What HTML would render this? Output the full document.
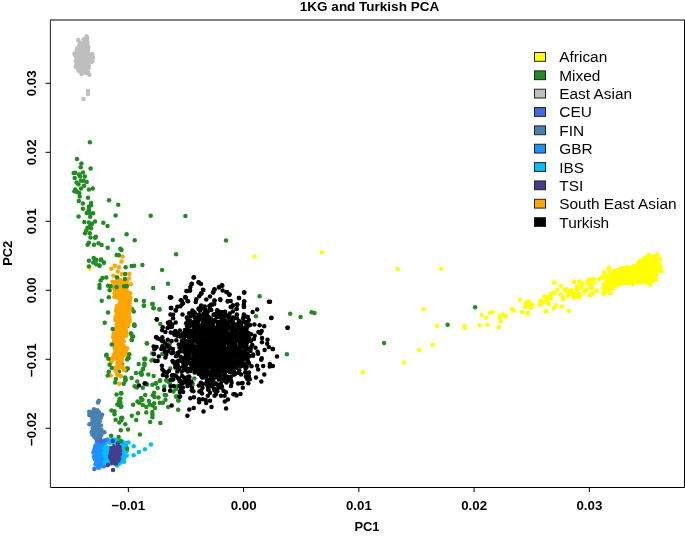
<!DOCTYPE html>
<html><head><meta charset="utf-8"><style>
html,body{margin:0;padding:0;background:#fff;}
svg{display:block;}
</style></head><body>
<svg width="685" height="536" viewBox="0 0 685 536">
<rect width="685" height="536" fill="#fff"/>
<g stroke="none">
<polygon points="614,271 622.5,268 633,267 640,262.5 647,257 656.5,256 658,260 659,270 654,278 649.5,282.5 638,282.5 632,283.8 623.5,283.8 615,285 611,289 607,287.5 607,279 611,274" fill="#FFFF00"/><g fill="#FFFF00"><circle cx="613.9" cy="271.1" r="2.25"/><circle cx="617.6" cy="269.9" r="2.25"/><circle cx="619.7" cy="269.2" r="2.25"/><circle cx="621.9" cy="268" r="2.25"/><circle cx="625.4" cy="268.3" r="2.25"/><circle cx="627" cy="267.1" r="2.25"/><circle cx="629.6" cy="267.8" r="2.25"/><circle cx="633.3" cy="266.2" r="2.25"/><circle cx="636.2" cy="266.3" r="2.25"/><circle cx="637.9" cy="264.2" r="2.25"/><circle cx="639.4" cy="261.6" r="2.25"/><circle cx="642.4" cy="259.9" r="2.25"/><circle cx="644.1" cy="258.4" r="2.25"/><circle cx="646.2" cy="256.9" r="2.25"/><circle cx="650.1" cy="257.3" r="2.25"/><circle cx="653.4" cy="256.6" r="2.25"/><circle cx="656.5" cy="256.3" r="2.25"/><circle cx="657.9" cy="259.6" r="2.25"/><circle cx="659.2" cy="264.2" r="2.25"/><circle cx="659.3" cy="267" r="2.25"/><circle cx="658.7" cy="269.5" r="2.25"/><circle cx="657" cy="271.9" r="2.25"/><circle cx="656.1" cy="275.2" r="2.25"/><circle cx="654.6" cy="277.8" r="2.25"/><circle cx="652.6" cy="280.9" r="2.25"/><circle cx="648.6" cy="282" r="2.25"/><circle cx="647.4" cy="282.4" r="2.25"/><circle cx="644.6" cy="282.3" r="2.25"/><circle cx="640.1" cy="282.7" r="2.25"/><circle cx="638.5" cy="282.1" r="2.25"/><circle cx="634.3" cy="282.8" r="2.25"/><circle cx="632.8" cy="284.3" r="2.25"/><circle cx="628.5" cy="283.3" r="2.25"/><circle cx="625.6" cy="283" r="2.25"/><circle cx="624" cy="283.2" r="2.25"/><circle cx="620.8" cy="284.1" r="2.25"/><circle cx="617.3" cy="285" r="2.25"/><circle cx="614.3" cy="285.3" r="2.25"/><circle cx="612.3" cy="286.9" r="2.25"/><circle cx="610.5" cy="288.6" r="2.25"/><circle cx="607.8" cy="288" r="2.25"/><circle cx="606.6" cy="285.4" r="2.25"/><circle cx="606.5" cy="281.6" r="2.25"/><circle cx="607.6" cy="279.3" r="2.25"/><circle cx="608.3" cy="277.4" r="2.25"/><circle cx="610.5" cy="273.6" r="2.25"/></g>
<g fill="#FFFF00"><circle cx="254.6" cy="256.5" r="2.25"/><circle cx="321.8" cy="252.3" r="2.25"/><circle cx="397.7" cy="269" r="2.25"/><circle cx="441.2" cy="268.7" r="2.25"/><circle cx="423.5" cy="309.2" r="2.25"/><circle cx="437.1" cy="325.8" r="2.25"/><circle cx="432.7" cy="344.8" r="2.25"/><circle cx="419.2" cy="349.9" r="2.25"/><circle cx="403.8" cy="362.4" r="2.25"/><circle cx="362.6" cy="372.3" r="2.25"/><circle cx="89.8" cy="268.8" r="2.25"/><circle cx="464.6" cy="325.9" r="2.25"/><circle cx="464.6" cy="327.9" r="2.25"/><circle cx="479.4" cy="325.3" r="2.25"/><circle cx="487.4" cy="324.8" r="2.25"/><circle cx="481.7" cy="314.9" r="2.25"/><circle cx="486.4" cy="317.7" r="2.25"/><circle cx="490.1" cy="312.8" r="2.25"/><circle cx="492.5" cy="312.1" r="2.25"/><circle cx="498.8" cy="327.2" r="2.25"/><circle cx="500.3" cy="315.6" r="2.25"/><circle cx="499.8" cy="317.7" r="2.25"/><circle cx="500.7" cy="321.3" r="2.25"/><circle cx="503.4" cy="314.6" r="2.25"/><circle cx="506" cy="316.2" r="2.25"/><circle cx="512.1" cy="309" r="2.25"/><circle cx="513.6" cy="310.5" r="2.25"/><circle cx="520.1" cy="299.8" r="2.25"/><circle cx="522.3" cy="312.1" r="2.25"/><circle cx="525.4" cy="305.9" r="2.25"/><circle cx="526.4" cy="303.4" r="2.25"/><circle cx="528.4" cy="301.9" r="2.25"/><circle cx="527.9" cy="313.1" r="2.25"/><circle cx="529.5" cy="307" r="2.25"/><circle cx="505.8" cy="316.1" r="2.25"/><circle cx="525.6" cy="303.5" r="2.25"/><circle cx="528.5" cy="301.7" r="2.25"/><circle cx="525.1" cy="306.5" r="2.25"/><circle cx="531.8" cy="304.8" r="2.25"/><circle cx="531" cy="307.3" r="2.25"/><circle cx="522.2" cy="311.9" r="2.25"/><circle cx="527.7" cy="313.2" r="2.25"/><circle cx="540.7" cy="301" r="2.25"/><circle cx="540.2" cy="304.8" r="2.25"/><circle cx="543.2" cy="302.3" r="2.25"/><circle cx="544.4" cy="296.4" r="2.25"/><circle cx="547.8" cy="297.2" r="2.25"/><circle cx="547" cy="300.2" r="2.25"/><circle cx="548.6" cy="303.5" r="2.25"/><circle cx="550.7" cy="293.9" r="2.25"/><circle cx="551.1" cy="297.7" r="2.25"/><circle cx="553.7" cy="293" r="2.25"/><circle cx="554.1" cy="282.7" r="2.25"/><circle cx="546.1" cy="311.2" r="2.25"/><circle cx="553.7" cy="308.1" r="2.25"/><circle cx="554.6" cy="282.6" r="2.25"/><circle cx="560.8" cy="285.8" r="2.25"/><circle cx="557.2" cy="289.9" r="2.25"/><circle cx="554.6" cy="293" r="2.25"/><circle cx="551" cy="294" r="2.25"/><circle cx="544.9" cy="296.8" r="2.25"/><circle cx="547.5" cy="298.1" r="2.25"/><circle cx="550.5" cy="298.1" r="2.25"/><circle cx="540.8" cy="300.6" r="2.25"/><circle cx="541.9" cy="302.7" r="2.25"/><circle cx="539.8" cy="304.7" r="2.25"/><circle cx="548.5" cy="303.5" r="2.25"/><circle cx="545.9" cy="311.4" r="2.25"/><circle cx="553.6" cy="308.3" r="2.25"/><circle cx="556.2" cy="305.2" r="2.25"/><circle cx="562" cy="306.6" r="2.25"/><circle cx="568.9" cy="310.9" r="2.25"/><circle cx="562.8" cy="299.6" r="2.25"/><circle cx="563.3" cy="297.6" r="2.25"/><circle cx="560.8" cy="294.5" r="2.25"/><circle cx="564.3" cy="289.4" r="2.25"/><circle cx="566.9" cy="289.4" r="2.25"/><circle cx="567.9" cy="292.5" r="2.25"/><circle cx="567.9" cy="296" r="2.25"/><circle cx="571.5" cy="290.4" r="2.25"/><circle cx="571" cy="294" r="2.25"/><circle cx="574" cy="297.1" r="2.25"/><circle cx="574.5" cy="294" r="2.25"/><circle cx="578.1" cy="297.1" r="2.25"/><circle cx="579.1" cy="294" r="2.25"/><circle cx="577.1" cy="286.3" r="2.25"/><circle cx="577.1" cy="289.9" r="2.25"/><circle cx="574" cy="281.7" r="2.25"/><circle cx="579.1" cy="281.7" r="2.25"/><circle cx="582.2" cy="283.8" r="2.25"/><circle cx="580.7" cy="287.4" r="2.25"/><circle cx="585.3" cy="290.4" r="2.25"/><circle cx="584.2" cy="292.5" r="2.25"/><circle cx="588.3" cy="280.2" r="2.25"/><circle cx="588.3" cy="282.3" r="2.25"/><circle cx="590.9" cy="285.3" r="2.25"/><circle cx="592.4" cy="279.2" r="2.25"/><circle cx="591.4" cy="287.9" r="2.25"/><circle cx="590.4" cy="295" r="2.25"/><circle cx="592.9" cy="293" r="2.25"/><circle cx="528.6" cy="301.2" r="2.25"/><circle cx="526" cy="303.7" r="2.25"/><circle cx="525.5" cy="306.8" r="2.25"/><circle cx="532.2" cy="304.7" r="2.25"/><circle cx="531.1" cy="307.3" r="2.25"/><circle cx="527.9" cy="313.1" r="2.25"/><circle cx="609" cy="267.6" r="2.25"/><circle cx="609" cy="270.1" r="2.25"/><circle cx="604" cy="272.6" r="2.25"/><circle cx="602.3" cy="276.8" r="2.25"/><circle cx="598.9" cy="279.3" r="2.25"/><circle cx="593.5" cy="279.3" r="2.25"/><circle cx="588.9" cy="279.7" r="2.25"/><circle cx="587.6" cy="282.7" r="2.25"/><circle cx="590.1" cy="285.2" r="2.25"/><circle cx="591.8" cy="287.7" r="2.25"/><circle cx="593.9" cy="282.7" r="2.25"/><circle cx="579.6" cy="281.8" r="2.25"/><circle cx="582.2" cy="283.5" r="2.25"/><circle cx="581.3" cy="286.9" r="2.25"/><circle cx="577.1" cy="287.3" r="2.25"/><circle cx="576.7" cy="289.8" r="2.25"/><circle cx="573.8" cy="281.7" r="2.25"/><circle cx="586.4" cy="289.4" r="2.25"/><circle cx="584.7" cy="291.9" r="2.25"/><circle cx="596.8" cy="290.7" r="2.25"/><circle cx="592.7" cy="292.8" r="2.25"/><circle cx="589.7" cy="295.3" r="2.25"/><circle cx="603.6" cy="284.4" r="2.25"/><circle cx="603.1" cy="288.6" r="2.25"/><circle cx="603.6" cy="293.6" r="2.25"/><circle cx="610.3" cy="292.8" r="2.25"/><circle cx="613.6" cy="287.7" r="2.25"/><circle cx="571.7" cy="291.1" r="2.25"/><circle cx="575" cy="294.4" r="2.25"/><circle cx="579.2" cy="295.3" r="2.25"/><circle cx="579.2" cy="297" r="2.25"/><circle cx="574.2" cy="297.8" r="2.25"/><circle cx="648.4" cy="254.9" r="2.25"/><circle cx="657.2" cy="254.1" r="2.25"/><circle cx="660.1" cy="259.6" r="2.25"/><circle cx="660.7" cy="267.2" r="2.25"/><circle cx="661.3" cy="271.3" r="2.25"/><circle cx="656" cy="279.5" r="2.25"/><circle cx="650.2" cy="284.7" r="2.25"/><circle cx="610.4" cy="292.9" r="2.25"/><circle cx="604" cy="294.1" r="2.25"/><circle cx="605" cy="292.5" r="2.25"/><circle cx="609" cy="290" r="2.25"/><circle cx="604" cy="285" r="2.25"/><circle cx="604" cy="289" r="2.25"/><circle cx="609.2" cy="268.6" r="2.25"/><circle cx="605.5" cy="275" r="2.25"/><circle cx="603.5" cy="278" r="2.25"/></g>
<polygon points="86.6,38.5 84,40 80.5,42.5 79.5,45.5 77.5,48.5 74.3,53 76,56.6 76.2,61.5 76.2,66 77.5,69.5 79.5,72 82.4,73.3 86.6,72.6 88.5,72 88,69 89.5,66 92,62.5 92.8,58 91.5,54.5 88.8,51 88,45.4 86.8,40.5" fill="#BEBEBE"/><g fill="#BEBEBE"><circle cx="87.1" cy="38.2" r="2.25"/><circle cx="83.6" cy="39.2" r="2.25"/><circle cx="79.8" cy="42.6" r="2.25"/><circle cx="79" cy="45.7" r="2.25"/><circle cx="77.3" cy="48.4" r="2.25"/><circle cx="76.7" cy="50.7" r="2.25"/><circle cx="74.4" cy="53.7" r="2.25"/><circle cx="75.4" cy="56" r="2.25"/><circle cx="76.8" cy="59.6" r="2.25"/><circle cx="75.7" cy="60.9" r="2.25"/><circle cx="76.6" cy="64.5" r="2.25"/><circle cx="75.7" cy="66.8" r="2.25"/><circle cx="78.2" cy="69.7" r="2.25"/><circle cx="79.4" cy="71.3" r="2.25"/><circle cx="81.6" cy="74.1" r="2.25"/><circle cx="86.1" cy="73" r="2.25"/><circle cx="88.1" cy="72.6" r="2.25"/><circle cx="88.2" cy="68.6" r="2.25"/><circle cx="88.9" cy="66.4" r="2.25"/><circle cx="91.2" cy="62" r="2.25"/><circle cx="92.5" cy="60.9" r="2.25"/><circle cx="93" cy="57.6" r="2.25"/><circle cx="92.3" cy="54" r="2.25"/><circle cx="87.9" cy="50.6" r="2.25"/><circle cx="88.3" cy="47.4" r="2.25"/><circle cx="87.4" cy="45.2" r="2.25"/><circle cx="87.5" cy="42.3" r="2.25"/><circle cx="86.6" cy="41.2" r="2.25"/></g>
<g fill="#BEBEBE"><circle cx="78.2" cy="40.1" r="2.25"/><circle cx="86.6" cy="36.3" r="2.25"/><circle cx="89.4" cy="74.7" r="2.25"/><circle cx="88" cy="90.9" r="2.25"/><circle cx="88" cy="94.1" r="2.25"/><circle cx="83.5" cy="99" r="2.25"/></g>
<polygon points="93,409 97,410 99.5,413 103,414 100.5,417 100.5,421 101,425 100.5,428.5 104,431.5 101,434.5 99.5,437 96.5,438.5 94,436.5 91,432 92.5,428.5 94.5,426 92,424 88.5,423.5 92,421 94,419 92,416.5 90,414.5 90,411.5" fill="#4682B4"/><g fill="#4682B4"><circle cx="93.9" cy="409.3" r="2.25"/><circle cx="97.3" cy="410.2" r="2.25"/><circle cx="98.9" cy="412.2" r="2.25"/><circle cx="102.1" cy="414.7" r="2.25"/><circle cx="100.9" cy="417.8" r="2.25"/><circle cx="99.6" cy="421.2" r="2.25"/><circle cx="101" cy="425.4" r="2.25"/><circle cx="100.2" cy="429.4" r="2.25"/><circle cx="101.5" cy="430.1" r="2.25"/><circle cx="104.4" cy="432.2" r="2.25"/><circle cx="101.4" cy="434.9" r="2.25"/><circle cx="100" cy="437.7" r="2.25"/><circle cx="96.2" cy="438.8" r="2.25"/><circle cx="94.7" cy="437.2" r="2.25"/><circle cx="92.4" cy="434.8" r="2.25"/><circle cx="91.7" cy="432.1" r="2.25"/><circle cx="92.7" cy="428.3" r="2.25"/><circle cx="94.6" cy="426.2" r="2.25"/><circle cx="91.2" cy="424.3" r="2.25"/><circle cx="89.4" cy="424.2" r="2.25"/><circle cx="92.4" cy="420.8" r="2.25"/><circle cx="94.4" cy="419.1" r="2.25"/><circle cx="91.9" cy="417.1" r="2.25"/><circle cx="89.3" cy="415" r="2.25"/><circle cx="89.2" cy="411.7" r="2.25"/></g>
<g fill="#4682B4"><circle cx="98.8" cy="400.7" r="2.25"/><circle cx="98" cy="402.6" r="2.25"/></g>
<polygon points="97,442 100,440.5 104,440 105.5,441.5 104.5,443.5 100,444 97,444.5" fill="#4169E1"/><g fill="#4169E1"><circle cx="97" cy="441.5" r="2.25"/><circle cx="100.4" cy="440.5" r="2.25"/><circle cx="104.2" cy="440.8" r="2.25"/><circle cx="105.1" cy="440.6" r="2.25"/><circle cx="104.1" cy="443.8" r="2.25"/><circle cx="101.7" cy="443.2" r="2.25"/><circle cx="100.7" cy="444.3" r="2.25"/><circle cx="96.9" cy="445.2" r="2.25"/></g>
<g fill="#4169E1"><circle cx="94.3" cy="469" r="2.25"/><circle cx="103.7" cy="466.3" r="2.25"/></g>
<polygon points="96,445 104,444.5 106,447 106,462 102,466 97,467.5 95.5,463 94.3,459 94.3,448" fill="#1E90FF"/><g fill="#1E90FF"><circle cx="95.7" cy="445.3" r="2.25"/><circle cx="98.1" cy="444.7" r="2.25"/><circle cx="101.9" cy="445.4" r="2.25"/><circle cx="104.7" cy="444.3" r="2.25"/><circle cx="106.1" cy="446.7" r="2.25"/><circle cx="105.3" cy="450" r="2.25"/><circle cx="106.6" cy="453.6" r="2.25"/><circle cx="106.4" cy="456.8" r="2.25"/><circle cx="105.6" cy="458.4" r="2.25"/><circle cx="105.9" cy="461.6" r="2.25"/><circle cx="103.5" cy="463.8" r="2.25"/><circle cx="102.2" cy="466" r="2.25"/><circle cx="99.2" cy="467.4" r="2.25"/><circle cx="97.9" cy="467.4" r="2.25"/><circle cx="95.5" cy="464.4" r="2.25"/><circle cx="96.2" cy="462.2" r="2.25"/><circle cx="94.7" cy="459.1" r="2.25"/><circle cx="94" cy="456.8" r="2.25"/><circle cx="93.4" cy="452.8" r="2.25"/><circle cx="94.2" cy="449.9" r="2.25"/><circle cx="94.9" cy="447.5" r="2.25"/></g>
<polygon points="104.5,449 108,441.5 112,440 120,441 126,443 126,455 124,461 118,463.5 110,463 105,462 104.4,455" fill="#00BFFF"/><g fill="#00BFFF"><circle cx="103.9" cy="448.2" r="2.25"/><circle cx="105.9" cy="446.4" r="2.25"/><circle cx="107.1" cy="444.3" r="2.25"/><circle cx="108.6" cy="442.3" r="2.25"/><circle cx="112.3" cy="439.5" r="2.25"/><circle cx="114.6" cy="439.8" r="2.25"/><circle cx="116.5" cy="440.6" r="2.25"/><circle cx="120.4" cy="440.4" r="2.25"/><circle cx="122.6" cy="441.7" r="2.25"/><circle cx="126.4" cy="443" r="2.25"/><circle cx="126.2" cy="446.5" r="2.25"/><circle cx="125.8" cy="449.5" r="2.25"/><circle cx="126.7" cy="451.3" r="2.25"/><circle cx="126.8" cy="455.4" r="2.25"/><circle cx="124.3" cy="457.9" r="2.25"/><circle cx="124.2" cy="461.7" r="2.25"/><circle cx="120.8" cy="462.4" r="2.25"/><circle cx="118.7" cy="464" r="2.25"/><circle cx="116.1" cy="463.3" r="2.25"/><circle cx="112.9" cy="462.6" r="2.25"/><circle cx="110.4" cy="463.6" r="2.25"/><circle cx="107.8" cy="462.9" r="2.25"/><circle cx="104.5" cy="462.7" r="2.25"/><circle cx="105.6" cy="459.4" r="2.25"/><circle cx="104.5" cy="455.5" r="2.25"/><circle cx="104.1" cy="452.7" r="2.25"/></g>
<g fill="#00BFFF"><circle cx="128.5" cy="442.5" r="2.25"/><circle cx="133.7" cy="446.3" r="2.25"/><circle cx="139" cy="452" r="2.25"/><circle cx="144.9" cy="449.3" r="2.25"/><circle cx="150.9" cy="444.5" r="2.25"/><circle cx="133.7" cy="455.2" r="2.25"/><circle cx="117.1" cy="465.6" r="2.25"/></g>
<polygon points="111,447.5 114,446.5 118,445.5 119.5,448 119.5,455 119,461 116,463 111,463 110.5,455" fill="#483D8B"/><g fill="#483D8B"><circle cx="111.6" cy="447.2" r="2.25"/><circle cx="113.2" cy="446.4" r="2.25"/><circle cx="118.1" cy="446" r="2.25"/><circle cx="119.5" cy="447.2" r="2.25"/><circle cx="120.1" cy="450.7" r="2.25"/><circle cx="120" cy="454.4" r="2.25"/><circle cx="119" cy="458.5" r="2.25"/><circle cx="118.4" cy="460.4" r="2.25"/><circle cx="116" cy="463.4" r="2.25"/><circle cx="114.1" cy="463.3" r="2.25"/><circle cx="111.8" cy="463" r="2.25"/><circle cx="111.6" cy="459.6" r="2.25"/><circle cx="110.2" cy="457.7" r="2.25"/><circle cx="110.1" cy="455.4" r="2.25"/><circle cx="110.9" cy="452.5" r="2.25"/><circle cx="111.5" cy="450.1" r="2.25"/></g>
<g fill="#483D8B"><circle cx="107.8" cy="464.9" r="2.25"/><circle cx="113" cy="470.1" r="2.25"/><circle cx="112.7" cy="441" r="2.25"/><circle cx="117.9" cy="443.5" r="2.25"/></g>
<path d="M107.2,444.2Q109.5,446.6 112.2,444.8" fill="none" stroke="#fff" stroke-width="1.1"/>
<g fill="#1E90FF"><circle cx="107.6" cy="439.4" r="2.25"/></g>
<g fill="#228B22"><circle cx="122.2" cy="364.7" r="2.25"/><circle cx="119" cy="371.6" r="2.25"/><circle cx="126.8" cy="368.6" r="2.25"/><circle cx="125.6" cy="292.8" r="2.25"/><circle cx="116.6" cy="310" r="2.25"/><circle cx="131.9" cy="308.9" r="2.25"/><circle cx="118.1" cy="336" r="2.25"/><circle cx="123" cy="341.3" r="2.25"/><circle cx="127.5" cy="326" r="2.25"/><circle cx="114.8" cy="348" r="2.25"/><circle cx="127.8" cy="368.4" r="2.25"/><circle cx="126.3" cy="370.3" r="2.25"/></g>
<polygon points="113,282 114.5,288 114.5,297 120,299.5 120,303 117,306 116,311 116,320 116.6,327 113.6,334 114,341 116.2,345 116,350 113,358 121,358 125.6,353.6 125,347.6 122,339.4 125.6,335.7 125.6,329.7 128,324.5 129.4,320 129.8,310 129.8,300 129.5,294 126.5,290 126.5,282 120,280" fill="#FFA500"/><g fill="#FFA500"><circle cx="112.7" cy="281.8" r="2.25"/><circle cx="114.4" cy="285.7" r="2.25"/><circle cx="114" cy="288.6" r="2.25"/><circle cx="115.3" cy="291" r="2.25"/><circle cx="114.6" cy="293.5" r="2.25"/><circle cx="114.6" cy="297" r="2.25"/><circle cx="117.4" cy="297.4" r="2.25"/><circle cx="120.8" cy="299.5" r="2.25"/><circle cx="119.8" cy="303.5" r="2.25"/><circle cx="117.1" cy="306" r="2.25"/><circle cx="116.8" cy="307.7" r="2.25"/><circle cx="116.1" cy="310.8" r="2.25"/><circle cx="116.8" cy="314.8" r="2.25"/><circle cx="115.6" cy="317" r="2.25"/><circle cx="115.3" cy="319.9" r="2.25"/><circle cx="116.9" cy="324.2" r="2.25"/><circle cx="116.6" cy="326.7" r="2.25"/><circle cx="115" cy="329.5" r="2.25"/><circle cx="115.4" cy="331" r="2.25"/><circle cx="114.1" cy="333.1" r="2.25"/><circle cx="113.2" cy="337" r="2.25"/><circle cx="114.3" cy="340.7" r="2.25"/><circle cx="114.8" cy="343.2" r="2.25"/><circle cx="115.5" cy="345.4" r="2.25"/><circle cx="115.4" cy="347.5" r="2.25"/><circle cx="115.6" cy="349.5" r="2.25"/><circle cx="115.1" cy="352.6" r="2.25"/><circle cx="113.8" cy="355.2" r="2.25"/><circle cx="113.1" cy="357.4" r="2.25"/><circle cx="115.1" cy="358.2" r="2.25"/><circle cx="118.6" cy="358.1" r="2.25"/><circle cx="121.6" cy="358.2" r="2.25"/><circle cx="123.9" cy="355.3" r="2.25"/><circle cx="126" cy="354.2" r="2.25"/><circle cx="126" cy="350.3" r="2.25"/><circle cx="124.7" cy="348.4" r="2.25"/><circle cx="123.5" cy="345.8" r="2.25"/><circle cx="123.7" cy="341.5" r="2.25"/><circle cx="121.5" cy="339.8" r="2.25"/><circle cx="123.4" cy="336.8" r="2.25"/><circle cx="126.2" cy="335.6" r="2.25"/><circle cx="126.1" cy="332" r="2.25"/><circle cx="125.4" cy="330" r="2.25"/><circle cx="125.9" cy="326.6" r="2.25"/><circle cx="128.3" cy="325.2" r="2.25"/><circle cx="129.5" cy="321.6" r="2.25"/><circle cx="129.4" cy="320.5" r="2.25"/><circle cx="129.5" cy="317" r="2.25"/><circle cx="129.1" cy="312.6" r="2.25"/><circle cx="129.1" cy="309.2" r="2.25"/><circle cx="129.9" cy="306.7" r="2.25"/><circle cx="129.9" cy="302.7" r="2.25"/><circle cx="129.2" cy="299.5" r="2.25"/><circle cx="130.3" cy="297.9" r="2.25"/><circle cx="130.3" cy="293.3" r="2.25"/><circle cx="127.2" cy="292.8" r="2.25"/><circle cx="126.4" cy="290.5" r="2.25"/><circle cx="126.2" cy="287.3" r="2.25"/><circle cx="126.5" cy="284.5" r="2.25"/><circle cx="126.7" cy="281.1" r="2.25"/><circle cx="123.6" cy="281.6" r="2.25"/><circle cx="119.4" cy="279.9" r="2.25"/><circle cx="116.9" cy="280.8" r="2.25"/></g>
<g fill="#FFA500"><circle cx="113" cy="282" r="2.25"/><circle cx="114.5" cy="288" r="2.25"/><circle cx="114.5" cy="297" r="2.25"/><circle cx="120" cy="299.5" r="2.25"/><circle cx="120" cy="303" r="2.25"/><circle cx="117" cy="306" r="2.25"/><circle cx="116" cy="311" r="2.25"/><circle cx="116" cy="320" r="2.25"/><circle cx="116.6" cy="327" r="2.25"/><circle cx="113.6" cy="334" r="2.25"/><circle cx="114" cy="341" r="2.25"/><circle cx="116.2" cy="345" r="2.25"/><circle cx="116" cy="350" r="2.25"/><circle cx="113" cy="358" r="2.25"/><circle cx="121" cy="358" r="2.25"/><circle cx="125.6" cy="353.6" r="2.25"/><circle cx="125" cy="347.6" r="2.25"/><circle cx="122" cy="339.4" r="2.25"/><circle cx="125.6" cy="335.7" r="2.25"/><circle cx="125.6" cy="329.7" r="2.25"/><circle cx="128" cy="324.5" r="2.25"/><circle cx="129.4" cy="320" r="2.25"/><circle cx="129.8" cy="310" r="2.25"/><circle cx="129.8" cy="300" r="2.25"/><circle cx="129.5" cy="294" r="2.25"/><circle cx="126.5" cy="290" r="2.25"/><circle cx="126.5" cy="282" r="2.25"/><circle cx="120" cy="280" r="2.25"/><circle cx="122.6" cy="256.6" r="2.25"/><circle cx="121.5" cy="261.6" r="2.25"/><circle cx="114.8" cy="265.7" r="2.25"/><circle cx="118.9" cy="267.2" r="2.25"/><circle cx="111.4" cy="268.7" r="2.25"/><circle cx="117.8" cy="271.6" r="2.25"/><circle cx="113.3" cy="275.7" r="2.25"/><circle cx="121.9" cy="274.3" r="2.25"/><circle cx="129.3" cy="273.9" r="2.25"/><circle cx="129" cy="278.4" r="2.25"/><circle cx="130.8" cy="284.3" r="2.25"/><circle cx="111.4" cy="359.5" r="2.25"/><circle cx="111" cy="362.1" r="2.25"/><circle cx="119.6" cy="360.2" r="2.25"/><circle cx="121.9" cy="361" r="2.25"/><circle cx="117.4" cy="364.7" r="2.25"/><circle cx="115.9" cy="368.4" r="2.25"/><circle cx="115.9" cy="371" r="2.25"/><circle cx="124.1" cy="369.9" r="2.25"/><circle cx="121.1" cy="367.3" r="2.25"/><circle cx="117.4" cy="374.4" r="2.25"/><circle cx="120.7" cy="376.3" r="2.25"/><circle cx="110.7" cy="375.5" r="2.25"/><circle cx="119.3" cy="383.7" r="2.25"/><circle cx="126" cy="334.9" r="2.25"/><circle cx="127.1" cy="348.5" r="2.25"/><circle cx="115" cy="358.5" r="2.25"/><circle cx="118.3" cy="359.8" r="2.25"/><circle cx="121.6" cy="358.5" r="2.25"/><circle cx="117.6" cy="363" r="2.25"/><circle cx="119.6" cy="363.7" r="2.25"/><circle cx="120.9" cy="361.8" r="2.25"/><circle cx="115.7" cy="367.6" r="2.25"/><circle cx="115.7" cy="370.3" r="2.25"/><circle cx="118.3" cy="367.6" r="2.25"/><circle cx="122.2" cy="366.3" r="2.25"/><circle cx="124.2" cy="369.6" r="2.25"/><circle cx="126.1" cy="353.6" r="2.25"/><circle cx="111.8" cy="359.2" r="2.25"/><circle cx="111.4" cy="361.4" r="2.25"/><circle cx="120.9" cy="376.1" r="2.25"/><circle cx="117.6" cy="374.8" r="2.25"/></g>
<g fill="#228B22"><circle cx="89.9" cy="142.2" r="2.25"/><circle cx="77" cy="158.9" r="2.25"/><circle cx="81.4" cy="163.6" r="2.25"/><circle cx="80.7" cy="167.3" r="2.25"/><circle cx="90.6" cy="168.4" r="2.25"/><circle cx="73.6" cy="172.9" r="2.25"/><circle cx="75.3" cy="172.7" r="2.25"/><circle cx="83" cy="172.4" r="2.25"/><circle cx="79.1" cy="174.5" r="2.25"/><circle cx="80.1" cy="176.4" r="2.25"/><circle cx="84.8" cy="176.6" r="2.25"/><circle cx="74.7" cy="177.9" r="2.25"/><circle cx="81" cy="180.8" r="2.25"/><circle cx="83.6" cy="180.8" r="2.25"/><circle cx="86.7" cy="182.1" r="2.25"/><circle cx="76.6" cy="182.5" r="2.25"/><circle cx="78.4" cy="184.3" r="2.25"/><circle cx="84.1" cy="185.8" r="2.25"/><circle cx="81" cy="188.6" r="2.25"/><circle cx="88.9" cy="189.5" r="2.25"/><circle cx="92.8" cy="188.5" r="2.25"/><circle cx="75.3" cy="189.5" r="2.25"/><circle cx="74.4" cy="191.3" r="2.25"/><circle cx="77.1" cy="192.1" r="2.25"/><circle cx="79.3" cy="193" r="2.25"/><circle cx="79.7" cy="196.5" r="2.25"/><circle cx="88" cy="197.8" r="2.25"/><circle cx="78.8" cy="200.9" r="2.25"/><circle cx="109" cy="200.2" r="2.25"/><circle cx="118.2" cy="204.8" r="2.25"/><circle cx="82.9" cy="203.5" r="2.25"/><circle cx="91.1" cy="203.1" r="2.25"/><circle cx="91.1" cy="205.3" r="2.25"/><circle cx="88.9" cy="206.6" r="2.25"/><circle cx="82.9" cy="208.8" r="2.25"/><circle cx="88.9" cy="209.2" r="2.25"/><circle cx="88.9" cy="210.3" r="2.25"/><circle cx="86.7" cy="213.1" r="2.25"/><circle cx="89.8" cy="213.3" r="2.25"/><circle cx="93.1" cy="213.3" r="2.25"/><circle cx="90.2" cy="216.8" r="2.25"/><circle cx="78.6" cy="216.4" r="2.25"/><circle cx="115.6" cy="215.5" r="2.25"/><circle cx="84.3" cy="222.1" r="2.25"/><circle cx="88.9" cy="222.5" r="2.25"/><circle cx="92" cy="223.8" r="2.25"/><circle cx="95" cy="221.5" r="2.25"/><circle cx="103.3" cy="222.8" r="2.25"/><circle cx="107.5" cy="226" r="2.25"/><circle cx="90.2" cy="226" r="2.25"/><circle cx="87.6" cy="227.8" r="2.25"/><circle cx="91.1" cy="228.2" r="2.25"/><circle cx="86.3" cy="230.4" r="2.25"/><circle cx="85" cy="233.2" r="2.25"/><circle cx="89.8" cy="233.2" r="2.25"/><circle cx="90.5" cy="237.6" r="2.25"/><circle cx="95" cy="237.8" r="2.25"/><circle cx="95.9" cy="236.7" r="2.25"/><circle cx="112.8" cy="240" r="2.25"/><circle cx="88.9" cy="242.7" r="2.25"/><circle cx="87.6" cy="244.8" r="2.25"/><circle cx="94" cy="244.8" r="2.25"/><circle cx="98.5" cy="243.3" r="2.25"/><circle cx="101.6" cy="245.1" r="2.25"/><circle cx="107.7" cy="247.7" r="2.25"/><circle cx="120.3" cy="248.8" r="2.25"/><circle cx="88.9" cy="260.8" r="2.25"/><circle cx="93.7" cy="258.1" r="2.25"/><circle cx="95.5" cy="260.3" r="2.25"/><circle cx="93.3" cy="262.5" r="2.25"/><circle cx="96.3" cy="264.3" r="2.25"/><circle cx="99.4" cy="265.6" r="2.25"/><circle cx="101.2" cy="259.4" r="2.25"/><circle cx="103.8" cy="262.5" r="2.25"/><circle cx="88.9" cy="266.5" r="2.25"/><circle cx="116.6" cy="254.9" r="2.25"/><circle cx="118.9" cy="255.2" r="2.25"/><circle cx="121.5" cy="250" r="2.25"/><circle cx="125.6" cy="267.3" r="2.25"/><circle cx="131.6" cy="266" r="2.25"/><circle cx="134.2" cy="265.7" r="2.25"/><circle cx="142.4" cy="264.9" r="2.25"/><circle cx="125.2" cy="273.9" r="2.25"/><circle cx="117" cy="277.2" r="2.25"/><circle cx="124.9" cy="279.1" r="2.25"/><circle cx="106.2" cy="277.6" r="2.25"/><circle cx="102.5" cy="278" r="2.25"/><circle cx="100.6" cy="280.6" r="2.25"/><circle cx="99.5" cy="285.1" r="2.25"/><circle cx="99.5" cy="288.1" r="2.25"/><circle cx="108.1" cy="285.8" r="2.25"/><circle cx="110.7" cy="286.2" r="2.25"/><circle cx="116.6" cy="286.9" r="2.25"/><circle cx="124.1" cy="286.2" r="2.25"/><circle cx="126.7" cy="286.2" r="2.25"/><circle cx="100.6" cy="260.1" r="2.25"/><circle cx="104" cy="262.7" r="2.25"/><circle cx="96.1" cy="259.7" r="2.25"/><circle cx="99.5" cy="265.7" r="2.25"/><circle cx="109.6" cy="290.2" r="2.25"/><circle cx="108.8" cy="297.3" r="2.25"/><circle cx="101.7" cy="300.7" r="2.25"/><circle cx="136" cy="300.3" r="2.25"/><circle cx="143.9" cy="301" r="2.25"/><circle cx="143.9" cy="305.5" r="2.25"/><circle cx="133.8" cy="311.5" r="2.25"/><circle cx="108.1" cy="312.6" r="2.25"/><circle cx="104.7" cy="322.7" r="2.25"/><circle cx="134.2" cy="324.6" r="2.25"/><circle cx="134.4" cy="325.6" r="2.25"/><circle cx="112.7" cy="329" r="2.25"/><circle cx="130.8" cy="333.4" r="2.25"/><circle cx="133.1" cy="336.4" r="2.25"/><circle cx="131.9" cy="339.8" r="2.25"/><circle cx="111.8" cy="344.6" r="2.25"/><circle cx="106.6" cy="354.7" r="2.25"/><circle cx="108.4" cy="358.8" r="2.25"/><circle cx="129.3" cy="354.3" r="2.25"/><circle cx="128.2" cy="358.1" r="2.25"/><circle cx="144.3" cy="358.8" r="2.25"/><circle cx="106.2" cy="355.4" r="2.25"/><circle cx="128.6" cy="358" r="2.25"/><circle cx="127.1" cy="359.5" r="2.25"/><circle cx="109.6" cy="364.7" r="2.25"/><circle cx="111.8" cy="368.1" r="2.25"/><circle cx="108.8" cy="371.8" r="2.25"/><circle cx="107.7" cy="375.5" r="2.25"/><circle cx="115.9" cy="378.9" r="2.25"/><circle cx="115.1" cy="382.6" r="2.25"/><circle cx="125.2" cy="377.4" r="2.25"/><circle cx="125.6" cy="379.6" r="2.25"/><circle cx="123.7" cy="383.7" r="2.25"/><circle cx="131.6" cy="378.1" r="2.25"/><circle cx="138.7" cy="364" r="2.25"/><circle cx="144.3" cy="364.3" r="2.25"/><circle cx="144.6" cy="359.1" r="2.25"/><circle cx="142.8" cy="369.2" r="2.25"/><circle cx="136" cy="372.9" r="2.25"/><circle cx="140.5" cy="372.9" r="2.25"/><circle cx="141.3" cy="374.4" r="2.25"/><circle cx="137.2" cy="381.5" r="2.25"/><circle cx="134.6" cy="386.3" r="2.25"/><circle cx="136.8" cy="387.5" r="2.25"/><circle cx="142.8" cy="387.8" r="2.25"/><circle cx="121.1" cy="393.1" r="2.25"/><circle cx="116.6" cy="394.6" r="2.25"/><circle cx="126.6" cy="234.2" r="2.25"/><circle cx="134.7" cy="240.2" r="2.25"/><circle cx="150.7" cy="215.7" r="2.25"/><circle cx="185.4" cy="215.9" r="2.25"/><circle cx="176.1" cy="254.2" r="2.25"/><circle cx="162.1" cy="270" r="2.25"/><circle cx="168" cy="283.8" r="2.25"/><circle cx="226" cy="240.4" r="2.25"/><circle cx="125.3" cy="380.4" r="2.25"/><circle cx="147.1" cy="384.4" r="2.25"/><circle cx="152.4" cy="384.8" r="2.25"/><circle cx="155.9" cy="383.5" r="2.25"/><circle cx="157.7" cy="387.9" r="2.25"/><circle cx="159.8" cy="380.9" r="2.25"/><circle cx="164.2" cy="386.6" r="2.25"/><circle cx="166.4" cy="380.4" r="2.25"/><circle cx="170.8" cy="380.4" r="2.25"/><circle cx="170.3" cy="384.8" r="2.25"/><circle cx="173.4" cy="391.4" r="2.25"/><circle cx="176" cy="388.8" r="2.25"/><circle cx="178.2" cy="385.7" r="2.25"/><circle cx="176" cy="396.6" r="2.25"/><circle cx="178.2" cy="400.6" r="2.25"/><circle cx="178.2" cy="409.8" r="2.25"/><circle cx="121.3" cy="393.6" r="2.25"/><circle cx="120.4" cy="398.8" r="2.25"/><circle cx="120.4" cy="402.8" r="2.25"/><circle cx="121.3" cy="406.3" r="2.25"/><circle cx="133.1" cy="404.7" r="2.25"/><circle cx="137.5" cy="401.5" r="2.25"/><circle cx="141" cy="398" r="2.25"/><circle cx="141.9" cy="400.1" r="2.25"/><circle cx="139.3" cy="402.8" r="2.25"/><circle cx="142.8" cy="405" r="2.25"/><circle cx="145.2" cy="394.9" r="2.25"/><circle cx="146.3" cy="407.1" r="2.25"/><circle cx="148.9" cy="401" r="2.25"/><circle cx="149.8" cy="404.5" r="2.25"/><circle cx="152.4" cy="405.4" r="2.25"/><circle cx="154.1" cy="403.2" r="2.25"/><circle cx="155" cy="408" r="2.25"/><circle cx="152.8" cy="395.3" r="2.25"/><circle cx="154.1" cy="392.7" r="2.25"/><circle cx="154.6" cy="397.1" r="2.25"/><circle cx="158.5" cy="397.5" r="2.25"/><circle cx="159.8" cy="402.8" r="2.25"/><circle cx="162.9" cy="402.8" r="2.25"/><circle cx="165.5" cy="399.7" r="2.25"/><circle cx="164.7" cy="394.9" r="2.25"/><circle cx="166" cy="395.3" r="2.25"/><circle cx="168.2" cy="407.1" r="2.25"/><circle cx="146.3" cy="412.4" r="2.25"/><circle cx="152.4" cy="412" r="2.25"/><circle cx="152.4" cy="414.6" r="2.25"/><circle cx="152.4" cy="417.2" r="2.25"/><circle cx="138" cy="413.3" r="2.25"/><circle cx="131.8" cy="415.7" r="2.25"/><circle cx="136.2" cy="420.1" r="2.25"/><circle cx="122.2" cy="417.7" r="2.25"/><circle cx="121.3" cy="420.3" r="2.25"/><circle cx="125.3" cy="424.2" r="2.25"/><circle cx="150.2" cy="422" r="2.25"/><circle cx="160.3" cy="422.9" r="2.25"/><circle cx="147" cy="343.5" r="2.25"/><circle cx="162.3" cy="354" r="2.25"/><circle cx="152.3" cy="353.6" r="2.25"/><circle cx="145.3" cy="358.8" r="2.25"/><circle cx="151.4" cy="360.6" r="2.25"/><circle cx="153.1" cy="359.7" r="2.25"/><circle cx="144.4" cy="363.6" r="2.25"/><circle cx="144.4" cy="365.4" r="2.25"/><circle cx="143.1" cy="368.9" r="2.25"/><circle cx="141.3" cy="372.8" r="2.25"/><circle cx="141.8" cy="374.6" r="2.25"/><circle cx="148.3" cy="374.6" r="2.25"/><circle cx="153.6" cy="375.9" r="2.25"/><circle cx="170.2" cy="368.5" r="2.25"/><circle cx="160.1" cy="380.3" r="2.25"/><circle cx="166.3" cy="380.3" r="2.25"/><circle cx="172" cy="379.8" r="2.25"/><circle cx="168.9" cy="382" r="2.25"/><circle cx="155.8" cy="383.3" r="2.25"/><circle cx="169.8" cy="343.5" r="2.25"/><circle cx="192.5" cy="383.3" r="2.25"/><circle cx="194.3" cy="378.5" r="2.25"/><circle cx="259.6" cy="296.3" r="2.25"/><circle cx="255.9" cy="316.3" r="2.25"/><circle cx="290.2" cy="313.8" r="2.25"/><circle cx="300.5" cy="317.1" r="2.25"/><circle cx="311.6" cy="312.3" r="2.25"/><circle cx="314.5" cy="313.1" r="2.25"/><circle cx="286.9" cy="354.2" r="2.25"/><circle cx="178.6" cy="400.5" r="2.25"/><circle cx="176.5" cy="396.4" r="2.25"/><circle cx="192.5" cy="384.7" r="2.25"/><circle cx="175.7" cy="389.1" r="2.25"/><circle cx="178.6" cy="386.2" r="2.25"/><circle cx="152.6" cy="303.9" r="2.25"/><circle cx="153.6" cy="308" r="2.25"/><circle cx="159.4" cy="309.3" r="2.25"/><circle cx="160.3" cy="323.9" r="2.25"/><circle cx="169.5" cy="343.4" r="2.25"/><circle cx="153.2" cy="287.9" r="2.25"/><circle cx="143.8" cy="305.7" r="2.25"/><circle cx="152.3" cy="304" r="2.25"/><circle cx="153.5" cy="308.2" r="2.25"/><circle cx="159.6" cy="309.4" r="2.25"/><circle cx="134.5" cy="325.8" r="2.25"/><circle cx="131.1" cy="333.4" r="2.25"/><circle cx="132.3" cy="336.4" r="2.25"/><circle cx="131.7" cy="340.1" r="2.25"/><circle cx="146.8" cy="343.3" r="2.25"/><circle cx="126.2" cy="286.1" r="2.25"/><circle cx="119.7" cy="400.4" r="2.25"/><circle cx="118.6" cy="404.9" r="2.25"/><circle cx="120.8" cy="406.7" r="2.25"/><circle cx="111.5" cy="410.4" r="2.25"/><circle cx="114.5" cy="411.2" r="2.25"/><circle cx="114.5" cy="414.2" r="2.25"/><circle cx="115.6" cy="419.8" r="2.25"/><circle cx="119.3" cy="422.4" r="2.25"/><circle cx="121.2" cy="417.9" r="2.25"/><circle cx="120.8" cy="430.2" r="2.25"/><circle cx="111.1" cy="435.8" r="2.25"/><circle cx="118.6" cy="436.9" r="2.25"/><circle cx="120.8" cy="441.3" r="2.25"/><circle cx="127.2" cy="448.8" r="2.25"/><circle cx="119.6" cy="398.9" r="2.25"/><circle cx="118.9" cy="401.9" r="2.25"/><circle cx="117.4" cy="404.5" r="2.25"/><circle cx="121.1" cy="406.4" r="2.25"/><circle cx="142.4" cy="399.6" r="2.25"/><circle cx="475.1" cy="307.3" r="2.25"/><circle cx="447.6" cy="324.7" r="2.25"/><circle cx="384.1" cy="343" r="2.25"/><circle cx="139.9" cy="434.6" r="2.25"/><circle cx="128" cy="429.4" r="2.25"/></g>
<g fill="#000000"><circle cx="208.1" cy="358.5" r="2.25"/><circle cx="208.8" cy="339.9" r="2.25"/><circle cx="192.6" cy="342.2" r="2.25"/><circle cx="239.6" cy="356.5" r="2.25"/><circle cx="237.8" cy="352.6" r="2.25"/><circle cx="223.1" cy="351.2" r="2.25"/><circle cx="175.7" cy="366.2" r="2.25"/><circle cx="219.4" cy="378.2" r="2.25"/><circle cx="242.6" cy="337.5" r="2.25"/><circle cx="221.1" cy="355.9" r="2.25"/><circle cx="198.8" cy="385.6" r="2.25"/><circle cx="185.4" cy="331.2" r="2.25"/><circle cx="193.8" cy="367.4" r="2.25"/><circle cx="221.4" cy="350" r="2.25"/><circle cx="223.5" cy="379.7" r="2.25"/><circle cx="196.1" cy="355.6" r="2.25"/><circle cx="192.3" cy="334.3" r="2.25"/><circle cx="215.1" cy="376.4" r="2.25"/><circle cx="167.7" cy="339.8" r="2.25"/><circle cx="231.6" cy="362.8" r="2.25"/><circle cx="214.6" cy="334.1" r="2.25"/><circle cx="207.5" cy="347.4" r="2.25"/><circle cx="194.8" cy="313.7" r="2.25"/><circle cx="171.9" cy="326.7" r="2.25"/><circle cx="203.6" cy="318.5" r="2.25"/><circle cx="191.7" cy="335" r="2.25"/><circle cx="209.8" cy="340.2" r="2.25"/><circle cx="204" cy="316" r="2.25"/><circle cx="188.2" cy="369" r="2.25"/><circle cx="200.5" cy="350.3" r="2.25"/><circle cx="219.9" cy="352.3" r="2.25"/><circle cx="215.4" cy="335.2" r="2.25"/><circle cx="214.3" cy="369.4" r="2.25"/><circle cx="220.5" cy="340.3" r="2.25"/><circle cx="195.3" cy="357.8" r="2.25"/><circle cx="257.2" cy="309.4" r="2.25"/><circle cx="221.5" cy="361.6" r="2.25"/><circle cx="216.8" cy="372.8" r="2.25"/><circle cx="198.8" cy="337.7" r="2.25"/><circle cx="238" cy="347.6" r="2.25"/><circle cx="193.7" cy="368.3" r="2.25"/><circle cx="247.7" cy="337" r="2.25"/><circle cx="182.3" cy="344" r="2.25"/><circle cx="210.6" cy="340.3" r="2.25"/><circle cx="246.3" cy="323.9" r="2.25"/><circle cx="243" cy="318.5" r="2.25"/><circle cx="205.3" cy="353.2" r="2.25"/><circle cx="208.5" cy="341" r="2.25"/><circle cx="228.4" cy="353.3" r="2.25"/><circle cx="225" cy="364.5" r="2.25"/><circle cx="214.5" cy="347.2" r="2.25"/><circle cx="220.2" cy="355.5" r="2.25"/><circle cx="210.6" cy="350.9" r="2.25"/><circle cx="236.3" cy="325" r="2.25"/><circle cx="224.4" cy="360.8" r="2.25"/><circle cx="201.4" cy="364.5" r="2.25"/><circle cx="188.2" cy="352.5" r="2.25"/><circle cx="223.2" cy="352.4" r="2.25"/><circle cx="204.1" cy="361.7" r="2.25"/><circle cx="220.5" cy="335.3" r="2.25"/><circle cx="231.4" cy="369.4" r="2.25"/><circle cx="241.8" cy="351.7" r="2.25"/><circle cx="212.5" cy="368.5" r="2.25"/><circle cx="217.7" cy="327.2" r="2.25"/><circle cx="221.1" cy="387.5" r="2.25"/><circle cx="229.7" cy="313.4" r="2.25"/><circle cx="192.6" cy="344.7" r="2.25"/><circle cx="219.4" cy="348" r="2.25"/><circle cx="210.7" cy="364.1" r="2.25"/><circle cx="235" cy="341" r="2.25"/><circle cx="217" cy="362.9" r="2.25"/><circle cx="219.1" cy="361.4" r="2.25"/><circle cx="180.8" cy="351.2" r="2.25"/><circle cx="243.1" cy="363.8" r="2.25"/><circle cx="247.9" cy="325.9" r="2.25"/><circle cx="214" cy="321.3" r="2.25"/><circle cx="231.6" cy="382.8" r="2.25"/><circle cx="195.5" cy="360.9" r="2.25"/><circle cx="248.9" cy="335.1" r="2.25"/><circle cx="219.8" cy="357.3" r="2.25"/><circle cx="202.2" cy="329.5" r="2.25"/><circle cx="202.4" cy="343.4" r="2.25"/><circle cx="197.4" cy="324.8" r="2.25"/><circle cx="236.4" cy="337.3" r="2.25"/><circle cx="243.8" cy="316.6" r="2.25"/><circle cx="213.8" cy="365.7" r="2.25"/><circle cx="215.8" cy="376.8" r="2.25"/><circle cx="212.6" cy="370.4" r="2.25"/><circle cx="248.3" cy="383.2" r="2.25"/><circle cx="168.9" cy="371.1" r="2.25"/><circle cx="186.6" cy="341.6" r="2.25"/><circle cx="238.6" cy="349.8" r="2.25"/><circle cx="214.8" cy="348.8" r="2.25"/><circle cx="218.3" cy="333.8" r="2.25"/><circle cx="177.5" cy="353" r="2.25"/><circle cx="201.2" cy="371.2" r="2.25"/><circle cx="176.1" cy="333.5" r="2.25"/><circle cx="197.8" cy="340.7" r="2.25"/><circle cx="184.3" cy="357.8" r="2.25"/><circle cx="178.8" cy="344.4" r="2.25"/><circle cx="188.3" cy="341.7" r="2.25"/><circle cx="247.3" cy="334.5" r="2.25"/><circle cx="162.7" cy="327.3" r="2.25"/><circle cx="221.6" cy="355.7" r="2.25"/><circle cx="205.7" cy="350.1" r="2.25"/><circle cx="214.5" cy="355.8" r="2.25"/><circle cx="194.5" cy="312.5" r="2.25"/><circle cx="224.6" cy="339.1" r="2.25"/><circle cx="206.9" cy="314.7" r="2.25"/><circle cx="224.8" cy="401.5" r="2.25"/><circle cx="220.8" cy="335.4" r="2.25"/><circle cx="188.8" cy="358.3" r="2.25"/><circle cx="220.7" cy="365.6" r="2.25"/><circle cx="213.2" cy="342.6" r="2.25"/><circle cx="190.6" cy="338.9" r="2.25"/><circle cx="234.5" cy="349.3" r="2.25"/><circle cx="194.4" cy="328.1" r="2.25"/><circle cx="228.3" cy="357.8" r="2.25"/><circle cx="230.5" cy="364.1" r="2.25"/><circle cx="250.1" cy="325" r="2.25"/><circle cx="210.9" cy="337.7" r="2.25"/><circle cx="246.8" cy="359.1" r="2.25"/><circle cx="206" cy="350.9" r="2.25"/><circle cx="244.2" cy="334.9" r="2.25"/><circle cx="217.1" cy="338.1" r="2.25"/><circle cx="219.3" cy="340.4" r="2.25"/><circle cx="230.5" cy="328.2" r="2.25"/><circle cx="198.5" cy="371.2" r="2.25"/><circle cx="230.3" cy="339.1" r="2.25"/><circle cx="233.4" cy="367" r="2.25"/><circle cx="214.8" cy="357.8" r="2.25"/><circle cx="217.9" cy="353.1" r="2.25"/><circle cx="219.9" cy="365.6" r="2.25"/><circle cx="200.8" cy="382.7" r="2.25"/><circle cx="199.6" cy="347" r="2.25"/><circle cx="211.5" cy="350.5" r="2.25"/><circle cx="214" cy="351" r="2.25"/><circle cx="210.9" cy="318.7" r="2.25"/><circle cx="223.7" cy="370.7" r="2.25"/><circle cx="224" cy="342.7" r="2.25"/><circle cx="224.3" cy="325.3" r="2.25"/><circle cx="170.4" cy="348.3" r="2.25"/><circle cx="190.1" cy="382.5" r="2.25"/><circle cx="198.6" cy="329.7" r="2.25"/><circle cx="209.6" cy="353.2" r="2.25"/><circle cx="220" cy="353.3" r="2.25"/><circle cx="213" cy="329.7" r="2.25"/><circle cx="219" cy="355.1" r="2.25"/><circle cx="210.6" cy="363.4" r="2.25"/><circle cx="207.2" cy="371" r="2.25"/><circle cx="227.7" cy="367.4" r="2.25"/><circle cx="197.5" cy="342.1" r="2.25"/><circle cx="233.3" cy="342.9" r="2.25"/><circle cx="213.3" cy="347.8" r="2.25"/><circle cx="194.8" cy="364.3" r="2.25"/><circle cx="198.6" cy="346.7" r="2.25"/><circle cx="211.7" cy="346.9" r="2.25"/><circle cx="213.1" cy="356.7" r="2.25"/><circle cx="208.6" cy="350.9" r="2.25"/><circle cx="233.4" cy="349.7" r="2.25"/><circle cx="217.3" cy="376.7" r="2.25"/><circle cx="176.3" cy="340.2" r="2.25"/><circle cx="187.9" cy="320.7" r="2.25"/><circle cx="218.8" cy="335.6" r="2.25"/><circle cx="187.1" cy="343" r="2.25"/><circle cx="208.2" cy="331.8" r="2.25"/><circle cx="226.1" cy="349.3" r="2.25"/><circle cx="207.1" cy="355.1" r="2.25"/><circle cx="229.1" cy="322.3" r="2.25"/><circle cx="191.6" cy="324.3" r="2.25"/><circle cx="202.7" cy="323.4" r="2.25"/><circle cx="185.5" cy="346.5" r="2.25"/><circle cx="209.4" cy="340" r="2.25"/><circle cx="212.5" cy="329.9" r="2.25"/><circle cx="230.1" cy="355" r="2.25"/><circle cx="212" cy="331.9" r="2.25"/><circle cx="191.4" cy="347.8" r="2.25"/><circle cx="179.4" cy="351.5" r="2.25"/><circle cx="189.5" cy="325.4" r="2.25"/><circle cx="225.5" cy="352.9" r="2.25"/><circle cx="213.1" cy="384.1" r="2.25"/><circle cx="204" cy="374.5" r="2.25"/><circle cx="222.1" cy="347.6" r="2.25"/><circle cx="210" cy="380.4" r="2.25"/><circle cx="201.7" cy="315.4" r="2.25"/><circle cx="207" cy="373.2" r="2.25"/><circle cx="188.9" cy="352.6" r="2.25"/><circle cx="249.8" cy="379.3" r="2.25"/><circle cx="267.5" cy="339.8" r="2.25"/><circle cx="196.7" cy="352.6" r="2.25"/><circle cx="227.9" cy="399.6" r="2.25"/><circle cx="202.9" cy="340.9" r="2.25"/><circle cx="157.8" cy="338.6" r="2.25"/><circle cx="225.7" cy="322.7" r="2.25"/><circle cx="241.2" cy="324.1" r="2.25"/><circle cx="215.9" cy="347.3" r="2.25"/><circle cx="188.9" cy="348.3" r="2.25"/><circle cx="209.9" cy="358.7" r="2.25"/><circle cx="202.8" cy="363.3" r="2.25"/><circle cx="214.7" cy="345.9" r="2.25"/><circle cx="214.2" cy="304" r="2.25"/><circle cx="246.5" cy="331.1" r="2.25"/><circle cx="229.5" cy="336.2" r="2.25"/><circle cx="198" cy="363.2" r="2.25"/><circle cx="244.7" cy="346.8" r="2.25"/><circle cx="198.4" cy="365.3" r="2.25"/><circle cx="212.9" cy="354" r="2.25"/><circle cx="249" cy="372.5" r="2.25"/><circle cx="230" cy="340.3" r="2.25"/><circle cx="211.3" cy="373.8" r="2.25"/><circle cx="222.2" cy="367.2" r="2.25"/><circle cx="179.1" cy="336.1" r="2.25"/><circle cx="211.2" cy="322.5" r="2.25"/><circle cx="214.6" cy="314.6" r="2.25"/><circle cx="212.4" cy="353.9" r="2.25"/><circle cx="224.8" cy="341.8" r="2.25"/><circle cx="193.2" cy="350.6" r="2.25"/><circle cx="211.9" cy="379.8" r="2.25"/><circle cx="204.8" cy="374.3" r="2.25"/><circle cx="203" cy="355.4" r="2.25"/><circle cx="222.3" cy="360.1" r="2.25"/><circle cx="236.4" cy="332.3" r="2.25"/><circle cx="202" cy="350.8" r="2.25"/><circle cx="217.6" cy="356.2" r="2.25"/><circle cx="208.5" cy="355.2" r="2.25"/><circle cx="215.2" cy="364.4" r="2.25"/><circle cx="170.5" cy="327.1" r="2.25"/><circle cx="193.7" cy="359.1" r="2.25"/><circle cx="191.9" cy="343.7" r="2.25"/><circle cx="209.7" cy="353.8" r="2.25"/><circle cx="233.1" cy="365.9" r="2.25"/><circle cx="182.5" cy="314.4" r="2.25"/><circle cx="211.7" cy="363.9" r="2.25"/><circle cx="193.8" cy="361.4" r="2.25"/><circle cx="219.8" cy="347.8" r="2.25"/><circle cx="213.6" cy="346.8" r="2.25"/><circle cx="173.2" cy="379.4" r="2.25"/><circle cx="214.1" cy="357.8" r="2.25"/><circle cx="229.8" cy="369.6" r="2.25"/><circle cx="190.5" cy="316.4" r="2.25"/><circle cx="185.9" cy="354.5" r="2.25"/><circle cx="217.4" cy="331" r="2.25"/><circle cx="243" cy="331.4" r="2.25"/><circle cx="210" cy="358.1" r="2.25"/><circle cx="213.6" cy="379" r="2.25"/><circle cx="210.4" cy="336.6" r="2.25"/><circle cx="239.3" cy="358.7" r="2.25"/><circle cx="194.2" cy="335.9" r="2.25"/><circle cx="219.2" cy="377.1" r="2.25"/><circle cx="233.4" cy="348.3" r="2.25"/><circle cx="157.6" cy="360.9" r="2.25"/><circle cx="233.5" cy="330" r="2.25"/><circle cx="215.7" cy="363.9" r="2.25"/><circle cx="248.8" cy="338.4" r="2.25"/><circle cx="212.3" cy="351.4" r="2.25"/><circle cx="179.5" cy="347.4" r="2.25"/><circle cx="212.4" cy="380.3" r="2.25"/><circle cx="228.7" cy="339.7" r="2.25"/><circle cx="234.4" cy="351.3" r="2.25"/><circle cx="183.4" cy="363.3" r="2.25"/><circle cx="225" cy="311.7" r="2.25"/><circle cx="198.4" cy="346.5" r="2.25"/><circle cx="233.5" cy="343.3" r="2.25"/><circle cx="221.1" cy="332.3" r="2.25"/><circle cx="220.9" cy="384.4" r="2.25"/><circle cx="220.3" cy="361.8" r="2.25"/><circle cx="227.9" cy="364.9" r="2.25"/><circle cx="218.7" cy="352.7" r="2.25"/><circle cx="235.4" cy="355.3" r="2.25"/><circle cx="247.3" cy="353.6" r="2.25"/><circle cx="197.9" cy="362" r="2.25"/><circle cx="207.1" cy="358.9" r="2.25"/><circle cx="232.6" cy="347.3" r="2.25"/><circle cx="179.8" cy="392.1" r="2.25"/><circle cx="229.3" cy="343.6" r="2.25"/><circle cx="187.5" cy="379.7" r="2.25"/><circle cx="207.3" cy="349.9" r="2.25"/><circle cx="192.1" cy="350.6" r="2.25"/><circle cx="227.2" cy="339.9" r="2.25"/><circle cx="181.7" cy="383.1" r="2.25"/><circle cx="178.4" cy="368.9" r="2.25"/><circle cx="219.9" cy="348.5" r="2.25"/><circle cx="211.2" cy="382.6" r="2.25"/><circle cx="206.5" cy="363.5" r="2.25"/><circle cx="177.3" cy="306.8" r="2.25"/><circle cx="216.6" cy="372.4" r="2.25"/><circle cx="213.8" cy="370.9" r="2.25"/><circle cx="161.3" cy="349.1" r="2.25"/><circle cx="218.5" cy="316.6" r="2.25"/><circle cx="204.5" cy="364.4" r="2.25"/><circle cx="188" cy="377" r="2.25"/><circle cx="226.5" cy="382.6" r="2.25"/><circle cx="219.5" cy="349.3" r="2.25"/><circle cx="194.7" cy="340.5" r="2.25"/><circle cx="213.1" cy="356.4" r="2.25"/><circle cx="236.2" cy="362.1" r="2.25"/><circle cx="207.7" cy="323.3" r="2.25"/><circle cx="216.4" cy="370.3" r="2.25"/><circle cx="188.9" cy="323.9" r="2.25"/><circle cx="245.9" cy="376.8" r="2.25"/><circle cx="193.7" cy="338.1" r="2.25"/><circle cx="212.9" cy="332" r="2.25"/><circle cx="214.3" cy="363.9" r="2.25"/><circle cx="203.3" cy="367" r="2.25"/><circle cx="241.3" cy="345.7" r="2.25"/><circle cx="218.9" cy="387.6" r="2.25"/><circle cx="234.9" cy="362.3" r="2.25"/><circle cx="232.6" cy="351.7" r="2.25"/><circle cx="224.9" cy="356.9" r="2.25"/><circle cx="244" cy="342" r="2.25"/><circle cx="234.1" cy="337.8" r="2.25"/><circle cx="230.7" cy="328.7" r="2.25"/><circle cx="211.5" cy="385.9" r="2.25"/><circle cx="224.2" cy="343.4" r="2.25"/><circle cx="187.7" cy="329.2" r="2.25"/><circle cx="218.5" cy="368.1" r="2.25"/><circle cx="223.8" cy="358.8" r="2.25"/><circle cx="213" cy="377.4" r="2.25"/><circle cx="205" cy="334.6" r="2.25"/><circle cx="234.4" cy="348.4" r="2.25"/><circle cx="207.6" cy="334" r="2.25"/><circle cx="208.1" cy="361" r="2.25"/><circle cx="222.1" cy="319.8" r="2.25"/><circle cx="223.8" cy="351" r="2.25"/><circle cx="191" cy="364.4" r="2.25"/><circle cx="225.6" cy="354.3" r="2.25"/><circle cx="206.1" cy="325.2" r="2.25"/><circle cx="209.9" cy="365.9" r="2.25"/><circle cx="233.1" cy="341.4" r="2.25"/><circle cx="194.2" cy="338.4" r="2.25"/><circle cx="204" cy="358.3" r="2.25"/><circle cx="211.9" cy="332" r="2.25"/><circle cx="224" cy="326.2" r="2.25"/><circle cx="232.9" cy="330.2" r="2.25"/><circle cx="216.1" cy="350.3" r="2.25"/><circle cx="182.8" cy="336.8" r="2.25"/><circle cx="222.4" cy="341.8" r="2.25"/><circle cx="198.1" cy="332" r="2.25"/><circle cx="201.1" cy="346.6" r="2.25"/><circle cx="208.2" cy="373.7" r="2.25"/><circle cx="223.9" cy="342.1" r="2.25"/><circle cx="217.9" cy="358.1" r="2.25"/><circle cx="206.4" cy="347.8" r="2.25"/><circle cx="234.4" cy="337" r="2.25"/><circle cx="240.4" cy="329.3" r="2.25"/><circle cx="220.1" cy="335.1" r="2.25"/><circle cx="217.6" cy="331.5" r="2.25"/><circle cx="177.3" cy="371.6" r="2.25"/><circle cx="220.6" cy="361.4" r="2.25"/><circle cx="191.5" cy="363" r="2.25"/><circle cx="226.4" cy="358.8" r="2.25"/><circle cx="206.3" cy="299.6" r="2.25"/><circle cx="178.2" cy="332.5" r="2.25"/><circle cx="220.1" cy="337.4" r="2.25"/><circle cx="190.4" cy="330.4" r="2.25"/><circle cx="200.3" cy="333.2" r="2.25"/><circle cx="187.3" cy="361.3" r="2.25"/><circle cx="200.4" cy="326.4" r="2.25"/><circle cx="209.4" cy="348.8" r="2.25"/><circle cx="194.4" cy="329.3" r="2.25"/><circle cx="217.6" cy="385" r="2.25"/><circle cx="218.8" cy="322.5" r="2.25"/><circle cx="225.2" cy="370" r="2.25"/><circle cx="223.4" cy="354.4" r="2.25"/><circle cx="204.9" cy="351.2" r="2.25"/><circle cx="188.3" cy="356.6" r="2.25"/><circle cx="207.8" cy="340" r="2.25"/><circle cx="209.9" cy="308.2" r="2.25"/><circle cx="206.3" cy="346.5" r="2.25"/><circle cx="191.6" cy="346.5" r="2.25"/><circle cx="225.9" cy="343.3" r="2.25"/><circle cx="209.3" cy="305.9" r="2.25"/><circle cx="233.6" cy="355.4" r="2.25"/><circle cx="214.5" cy="333.8" r="2.25"/><circle cx="228.7" cy="336.1" r="2.25"/><circle cx="219.1" cy="335.5" r="2.25"/><circle cx="162.3" cy="346.3" r="2.25"/><circle cx="211.8" cy="373.6" r="2.25"/><circle cx="211.4" cy="352.6" r="2.25"/><circle cx="219.6" cy="359.1" r="2.25"/><circle cx="246" cy="333.8" r="2.25"/><circle cx="225.1" cy="338.6" r="2.25"/><circle cx="216.5" cy="336.1" r="2.25"/><circle cx="181.9" cy="340.9" r="2.25"/><circle cx="184.3" cy="382.3" r="2.25"/><circle cx="172.3" cy="324.6" r="2.25"/><circle cx="246.4" cy="345.6" r="2.25"/><circle cx="181.6" cy="371.8" r="2.25"/><circle cx="244.1" cy="345.2" r="2.25"/><circle cx="189" cy="376.5" r="2.25"/><circle cx="230.9" cy="380.3" r="2.25"/><circle cx="221.5" cy="331.4" r="2.25"/><circle cx="184.9" cy="329.9" r="2.25"/><circle cx="213.5" cy="348.2" r="2.25"/><circle cx="226.8" cy="349.7" r="2.25"/><circle cx="195.8" cy="331" r="2.25"/><circle cx="165.3" cy="343.2" r="2.25"/><circle cx="218.8" cy="379.4" r="2.25"/><circle cx="215.6" cy="347.2" r="2.25"/><circle cx="207.3" cy="355.4" r="2.25"/><circle cx="203.8" cy="359.5" r="2.25"/><circle cx="187.5" cy="332" r="2.25"/><circle cx="223.1" cy="377.2" r="2.25"/><circle cx="201.8" cy="348.9" r="2.25"/><circle cx="229.8" cy="340.5" r="2.25"/><circle cx="220.1" cy="355.1" r="2.25"/><circle cx="199.3" cy="357.2" r="2.25"/><circle cx="247" cy="349.3" r="2.25"/><circle cx="194.3" cy="339" r="2.25"/><circle cx="198.8" cy="327.7" r="2.25"/><circle cx="248.5" cy="332.9" r="2.25"/><circle cx="214.5" cy="395.7" r="2.25"/><circle cx="191" cy="342.5" r="2.25"/><circle cx="214.6" cy="354.8" r="2.25"/><circle cx="214.7" cy="343.5" r="2.25"/><circle cx="162.1" cy="330.2" r="2.25"/><circle cx="223.8" cy="376.3" r="2.25"/><circle cx="181.1" cy="345.6" r="2.25"/><circle cx="223" cy="364.2" r="2.25"/><circle cx="211.7" cy="353.7" r="2.25"/><circle cx="244.9" cy="321.8" r="2.25"/><circle cx="213.4" cy="344.5" r="2.25"/><circle cx="212.7" cy="322.3" r="2.25"/><circle cx="215.6" cy="357.5" r="2.25"/><circle cx="214.7" cy="353.3" r="2.25"/><circle cx="234.5" cy="317.7" r="2.25"/><circle cx="211.1" cy="375.4" r="2.25"/><circle cx="176.7" cy="362.5" r="2.25"/><circle cx="210.8" cy="379.1" r="2.25"/><circle cx="229.7" cy="343.6" r="2.25"/><circle cx="216.9" cy="344.3" r="2.25"/><circle cx="212.9" cy="363.5" r="2.25"/><circle cx="192" cy="388" r="2.25"/><circle cx="202" cy="315.8" r="2.25"/><circle cx="239.7" cy="343.7" r="2.25"/><circle cx="233" cy="317.6" r="2.25"/><circle cx="229.4" cy="328.2" r="2.25"/><circle cx="209.3" cy="318.1" r="2.25"/><circle cx="208.4" cy="361.5" r="2.25"/><circle cx="207.4" cy="340.7" r="2.25"/><circle cx="224.9" cy="340.3" r="2.25"/><circle cx="224.8" cy="348.8" r="2.25"/><circle cx="233.1" cy="338.1" r="2.25"/><circle cx="217.5" cy="351.2" r="2.25"/><circle cx="248.1" cy="355.9" r="2.25"/><circle cx="190.3" cy="321.1" r="2.25"/><circle cx="213.3" cy="338.7" r="2.25"/><circle cx="195.6" cy="335.5" r="2.25"/><circle cx="224.3" cy="343.3" r="2.25"/><circle cx="217.1" cy="357.5" r="2.25"/><circle cx="211.5" cy="357" r="2.25"/><circle cx="245.6" cy="368.8" r="2.25"/><circle cx="203.8" cy="368.4" r="2.25"/><circle cx="231.6" cy="349.3" r="2.25"/><circle cx="206.6" cy="381.9" r="2.25"/><circle cx="200.3" cy="361.6" r="2.25"/><circle cx="240.5" cy="341" r="2.25"/><circle cx="233" cy="321.9" r="2.25"/><circle cx="237.3" cy="351.5" r="2.25"/><circle cx="177.5" cy="362.1" r="2.25"/><circle cx="206" cy="320.2" r="2.25"/><circle cx="223.5" cy="390.8" r="2.25"/><circle cx="220" cy="334.6" r="2.25"/><circle cx="229.5" cy="347.1" r="2.25"/><circle cx="240.7" cy="347.7" r="2.25"/><circle cx="173" cy="349.1" r="2.25"/><circle cx="192.8" cy="347.7" r="2.25"/><circle cx="222.8" cy="331.8" r="2.25"/><circle cx="231.6" cy="340.7" r="2.25"/><circle cx="221.8" cy="381" r="2.25"/><circle cx="202.9" cy="347.1" r="2.25"/><circle cx="207.8" cy="340" r="2.25"/><circle cx="222.4" cy="313.2" r="2.25"/><circle cx="221.4" cy="316.2" r="2.25"/><circle cx="199.7" cy="365" r="2.25"/><circle cx="175.9" cy="376.1" r="2.25"/><circle cx="218" cy="343.7" r="2.25"/><circle cx="218.9" cy="363.9" r="2.25"/><circle cx="236.1" cy="331.6" r="2.25"/><circle cx="179.3" cy="379.1" r="2.25"/><circle cx="186.5" cy="353.7" r="2.25"/><circle cx="214.6" cy="314.6" r="2.25"/><circle cx="202.1" cy="363.3" r="2.25"/><circle cx="213.3" cy="333.3" r="2.25"/><circle cx="177.3" cy="361.5" r="2.25"/><circle cx="232" cy="364.8" r="2.25"/><circle cx="226.7" cy="336" r="2.25"/><circle cx="221" cy="364.8" r="2.25"/><circle cx="201.1" cy="305.5" r="2.25"/><circle cx="221.6" cy="357.8" r="2.25"/><circle cx="214.3" cy="367" r="2.25"/><circle cx="200.5" cy="345.1" r="2.25"/><circle cx="207" cy="359.9" r="2.25"/><circle cx="250.7" cy="341.3" r="2.25"/><circle cx="261.3" cy="381.4" r="2.25"/><circle cx="224.4" cy="311.9" r="2.25"/><circle cx="200.1" cy="352.9" r="2.25"/><circle cx="206.9" cy="338.8" r="2.25"/><circle cx="220.2" cy="368.5" r="2.25"/><circle cx="236.7" cy="351.8" r="2.25"/><circle cx="223" cy="313.5" r="2.25"/><circle cx="181.5" cy="346.9" r="2.25"/><circle cx="233.7" cy="370.8" r="2.25"/><circle cx="186.8" cy="359.5" r="2.25"/><circle cx="199.4" cy="354.7" r="2.25"/><circle cx="198.1" cy="327.8" r="2.25"/><circle cx="201.5" cy="376.2" r="2.25"/><circle cx="233.6" cy="360.5" r="2.25"/><circle cx="221.3" cy="312.2" r="2.25"/><circle cx="202" cy="334.6" r="2.25"/><circle cx="191.5" cy="358.5" r="2.25"/><circle cx="227.7" cy="376.9" r="2.25"/><circle cx="218" cy="325" r="2.25"/><circle cx="242" cy="353.7" r="2.25"/><circle cx="203.5" cy="345.7" r="2.25"/><circle cx="188.4" cy="334.3" r="2.25"/><circle cx="208.4" cy="320.6" r="2.25"/><circle cx="166.7" cy="376.2" r="2.25"/><circle cx="204.8" cy="326.4" r="2.25"/><circle cx="214.9" cy="335.5" r="2.25"/><circle cx="235.5" cy="344.9" r="2.25"/><circle cx="231.3" cy="353.3" r="2.25"/><circle cx="211" cy="349.2" r="2.25"/><circle cx="193" cy="358.5" r="2.25"/><circle cx="207.2" cy="327.1" r="2.25"/><circle cx="212.4" cy="363" r="2.25"/><circle cx="222" cy="386.7" r="2.25"/><circle cx="201.6" cy="356.8" r="2.25"/><circle cx="196.8" cy="328.1" r="2.25"/><circle cx="198.8" cy="340.9" r="2.25"/><circle cx="234.9" cy="342.3" r="2.25"/><circle cx="195.2" cy="350.7" r="2.25"/><circle cx="202.6" cy="343.5" r="2.25"/><circle cx="224.8" cy="328.8" r="2.25"/><circle cx="224.7" cy="332.7" r="2.25"/><circle cx="201.5" cy="359.1" r="2.25"/><circle cx="200.8" cy="353.5" r="2.25"/><circle cx="250.8" cy="347.6" r="2.25"/><circle cx="210.6" cy="363.5" r="2.25"/><circle cx="205.6" cy="371.4" r="2.25"/><circle cx="184.5" cy="360.9" r="2.25"/><circle cx="179.7" cy="386.3" r="2.25"/><circle cx="216.7" cy="334.9" r="2.25"/><circle cx="229.9" cy="319.2" r="2.25"/><circle cx="217.5" cy="347.3" r="2.25"/><circle cx="246.1" cy="337.2" r="2.25"/><circle cx="214" cy="357.4" r="2.25"/><circle cx="224.5" cy="359.8" r="2.25"/><circle cx="217.5" cy="326.5" r="2.25"/><circle cx="220.7" cy="314.2" r="2.25"/><circle cx="245.8" cy="322.5" r="2.25"/><circle cx="222.1" cy="334.3" r="2.25"/><circle cx="204" cy="321.1" r="2.25"/><circle cx="212.7" cy="322.9" r="2.25"/><circle cx="235.7" cy="327.8" r="2.25"/><circle cx="212.5" cy="363.4" r="2.25"/><circle cx="231.2" cy="367.1" r="2.25"/><circle cx="238.1" cy="356.1" r="2.25"/><circle cx="230.5" cy="367.6" r="2.25"/><circle cx="185.4" cy="347.3" r="2.25"/><circle cx="215.7" cy="345" r="2.25"/><circle cx="228" cy="325.7" r="2.25"/><circle cx="182.6" cy="334.2" r="2.25"/><circle cx="226" cy="328.6" r="2.25"/><circle cx="162.9" cy="374.9" r="2.25"/><circle cx="192.7" cy="322.7" r="2.25"/><circle cx="245" cy="352.5" r="2.25"/><circle cx="241.3" cy="343.9" r="2.25"/><circle cx="165.1" cy="351.6" r="2.25"/><circle cx="207.6" cy="316.1" r="2.25"/><circle cx="189.8" cy="385" r="2.25"/><circle cx="186.3" cy="351.4" r="2.25"/><circle cx="220" cy="370.3" r="2.25"/><circle cx="188.2" cy="360.4" r="2.25"/><circle cx="202.5" cy="387.7" r="2.25"/><circle cx="195.7" cy="346.6" r="2.25"/><circle cx="191" cy="314.1" r="2.25"/><circle cx="204.2" cy="364.2" r="2.25"/><circle cx="204.7" cy="375.5" r="2.25"/><circle cx="187.3" cy="317.5" r="2.25"/><circle cx="249.7" cy="356" r="2.25"/><circle cx="235.7" cy="328.4" r="2.25"/><circle cx="232.5" cy="352.8" r="2.25"/><circle cx="228.9" cy="347.6" r="2.25"/><circle cx="241.7" cy="332.4" r="2.25"/><circle cx="191.8" cy="313.8" r="2.25"/><circle cx="240.7" cy="330.4" r="2.25"/><circle cx="190" cy="325.9" r="2.25"/><circle cx="203.8" cy="318.4" r="2.25"/><circle cx="207.3" cy="332.9" r="2.25"/><circle cx="201.3" cy="325.4" r="2.25"/><circle cx="214.8" cy="336.6" r="2.25"/><circle cx="216.6" cy="352.6" r="2.25"/><circle cx="184.9" cy="377.7" r="2.25"/><circle cx="197.6" cy="340.4" r="2.25"/><circle cx="206.3" cy="369.3" r="2.25"/><circle cx="203.8" cy="368.7" r="2.25"/><circle cx="180.3" cy="306.2" r="2.25"/><circle cx="208.1" cy="344.4" r="2.25"/><circle cx="235.8" cy="335" r="2.25"/><circle cx="236.7" cy="349" r="2.25"/><circle cx="190.6" cy="350.6" r="2.25"/><circle cx="240.5" cy="366.4" r="2.25"/><circle cx="217.1" cy="359.5" r="2.25"/><circle cx="216.2" cy="347.2" r="2.25"/><circle cx="209.3" cy="336.5" r="2.25"/><circle cx="223.7" cy="345" r="2.25"/><circle cx="222.2" cy="338.4" r="2.25"/><circle cx="250.4" cy="351" r="2.25"/><circle cx="215.8" cy="383.6" r="2.25"/><circle cx="216.8" cy="353.7" r="2.25"/><circle cx="219.5" cy="311.8" r="2.25"/><circle cx="236.9" cy="318.3" r="2.25"/><circle cx="241.9" cy="363" r="2.25"/><circle cx="207.5" cy="322.8" r="2.25"/><circle cx="230" cy="339.9" r="2.25"/><circle cx="249.6" cy="339" r="2.25"/><circle cx="218" cy="347.3" r="2.25"/><circle cx="189.2" cy="313.3" r="2.25"/><circle cx="231.4" cy="356.3" r="2.25"/><circle cx="212.2" cy="333.6" r="2.25"/><circle cx="231" cy="327.1" r="2.25"/><circle cx="234.5" cy="354.9" r="2.25"/><circle cx="192" cy="336" r="2.25"/><circle cx="208.3" cy="335.7" r="2.25"/><circle cx="220.4" cy="326.6" r="2.25"/><circle cx="194.1" cy="322" r="2.25"/><circle cx="194.2" cy="357.9" r="2.25"/><circle cx="196.5" cy="339.4" r="2.25"/><circle cx="201.5" cy="306.6" r="2.25"/><circle cx="198.5" cy="373.7" r="2.25"/><circle cx="205.2" cy="369.2" r="2.25"/><circle cx="231.1" cy="332.9" r="2.25"/><circle cx="201.6" cy="319" r="2.25"/><circle cx="247.2" cy="322.2" r="2.25"/><circle cx="232" cy="347.2" r="2.25"/><circle cx="187" cy="361" r="2.25"/><circle cx="219.1" cy="342.7" r="2.25"/><circle cx="197.4" cy="339.1" r="2.25"/><circle cx="232.2" cy="336.3" r="2.25"/><circle cx="239.1" cy="361.6" r="2.25"/><circle cx="218.5" cy="332.6" r="2.25"/><circle cx="186.9" cy="325.9" r="2.25"/><circle cx="198.7" cy="350.3" r="2.25"/><circle cx="212.9" cy="384.5" r="2.25"/><circle cx="220.6" cy="322.9" r="2.25"/><circle cx="217.3" cy="376.4" r="2.25"/><circle cx="183.6" cy="351.4" r="2.25"/><circle cx="219.1" cy="360.3" r="2.25"/><circle cx="207.4" cy="326.6" r="2.25"/><circle cx="192.5" cy="338" r="2.25"/><circle cx="201" cy="345.6" r="2.25"/><circle cx="206.3" cy="354.6" r="2.25"/><circle cx="186.8" cy="317.7" r="2.25"/><circle cx="231.2" cy="372.2" r="2.25"/><circle cx="198.4" cy="369.5" r="2.25"/><circle cx="220" cy="347.8" r="2.25"/><circle cx="197.7" cy="339.8" r="2.25"/><circle cx="218.4" cy="323.7" r="2.25"/><circle cx="251.1" cy="334.3" r="2.25"/><circle cx="229" cy="350.6" r="2.25"/><circle cx="218.1" cy="355.5" r="2.25"/><circle cx="241.9" cy="356" r="2.25"/><circle cx="231.5" cy="328.9" r="2.25"/><circle cx="261.7" cy="330.9" r="2.25"/><circle cx="195.1" cy="333.9" r="2.25"/><circle cx="183.8" cy="334.3" r="2.25"/><circle cx="247" cy="337.9" r="2.25"/><circle cx="194.4" cy="362.3" r="2.25"/><circle cx="215.1" cy="353.2" r="2.25"/><circle cx="213.2" cy="367.9" r="2.25"/><circle cx="226.1" cy="351.3" r="2.25"/><circle cx="204.7" cy="375.7" r="2.25"/><circle cx="214.5" cy="336.4" r="2.25"/><circle cx="206.1" cy="362.5" r="2.25"/><circle cx="232.7" cy="365.1" r="2.25"/><circle cx="222.3" cy="361.5" r="2.25"/><circle cx="235.5" cy="373.5" r="2.25"/><circle cx="250.4" cy="349.8" r="2.25"/><circle cx="216.1" cy="352.7" r="2.25"/><circle cx="228.6" cy="340" r="2.25"/><circle cx="230" cy="365.9" r="2.25"/><circle cx="196.5" cy="329.2" r="2.25"/><circle cx="191.1" cy="382.4" r="2.25"/><circle cx="205.2" cy="338" r="2.25"/><circle cx="215.4" cy="354.6" r="2.25"/><circle cx="207.4" cy="319.2" r="2.25"/><circle cx="242.6" cy="382.9" r="2.25"/><circle cx="202.6" cy="353.9" r="2.25"/><circle cx="208.2" cy="389.7" r="2.25"/><circle cx="227.2" cy="369.7" r="2.25"/><circle cx="193.4" cy="391.2" r="2.25"/><circle cx="221.8" cy="346" r="2.25"/><circle cx="241" cy="326.5" r="2.25"/><circle cx="220.3" cy="371.9" r="2.25"/><circle cx="210" cy="363.9" r="2.25"/><circle cx="220.6" cy="367.4" r="2.25"/><circle cx="223.3" cy="342.4" r="2.25"/><circle cx="202" cy="393.4" r="2.25"/><circle cx="211.2" cy="328.4" r="2.25"/><circle cx="218.1" cy="346.5" r="2.25"/><circle cx="221.4" cy="327.8" r="2.25"/><circle cx="214.9" cy="348.1" r="2.25"/><circle cx="227.9" cy="323.1" r="2.25"/><circle cx="223.6" cy="369.1" r="2.25"/><circle cx="227.7" cy="338.7" r="2.25"/><circle cx="202.7" cy="341.7" r="2.25"/><circle cx="217.1" cy="355.6" r="2.25"/><circle cx="240.9" cy="363.1" r="2.25"/><circle cx="195.6" cy="347.5" r="2.25"/><circle cx="222.6" cy="376.8" r="2.25"/><circle cx="203" cy="307.3" r="2.25"/><circle cx="200.6" cy="339.5" r="2.25"/><circle cx="248.2" cy="361.7" r="2.25"/><circle cx="183.2" cy="366.6" r="2.25"/><circle cx="221.7" cy="328.1" r="2.25"/><circle cx="226.6" cy="334.2" r="2.25"/><circle cx="231" cy="386.1" r="2.25"/><circle cx="225.5" cy="365.5" r="2.25"/><circle cx="212.2" cy="345.8" r="2.25"/><circle cx="189.2" cy="344" r="2.25"/><circle cx="202.4" cy="345.9" r="2.25"/><circle cx="204.7" cy="306.6" r="2.25"/><circle cx="227.4" cy="332.2" r="2.25"/><circle cx="208.6" cy="325.6" r="2.25"/><circle cx="214.1" cy="339" r="2.25"/><circle cx="185.8" cy="344.7" r="2.25"/><circle cx="209.4" cy="345.9" r="2.25"/><circle cx="230" cy="343.7" r="2.25"/><circle cx="218.4" cy="356.5" r="2.25"/><circle cx="213.9" cy="388.5" r="2.25"/><circle cx="224.2" cy="348.9" r="2.25"/><circle cx="209.2" cy="332.9" r="2.25"/><circle cx="244.9" cy="350.4" r="2.25"/><circle cx="189.2" cy="334.3" r="2.25"/><circle cx="210.9" cy="337" r="2.25"/><circle cx="238.9" cy="320.9" r="2.25"/><circle cx="225.3" cy="350.2" r="2.25"/><circle cx="186.9" cy="348.1" r="2.25"/><circle cx="211.8" cy="358.3" r="2.25"/><circle cx="203.6" cy="353.8" r="2.25"/><circle cx="175.7" cy="322.6" r="2.25"/><circle cx="179.8" cy="330.5" r="2.25"/><circle cx="175.4" cy="367.6" r="2.25"/><circle cx="170.6" cy="379.7" r="2.25"/><circle cx="205" cy="361.2" r="2.25"/><circle cx="201.5" cy="367.7" r="2.25"/><circle cx="231.7" cy="306.9" r="2.25"/><circle cx="214.1" cy="370.6" r="2.25"/><circle cx="199.3" cy="331.1" r="2.25"/><circle cx="205.4" cy="345.4" r="2.25"/><circle cx="189.1" cy="357.9" r="2.25"/><circle cx="246.2" cy="353.9" r="2.25"/><circle cx="210.6" cy="380.7" r="2.25"/><circle cx="209.8" cy="374.8" r="2.25"/><circle cx="242.5" cy="332.7" r="2.25"/><circle cx="213.9" cy="374.3" r="2.25"/><circle cx="162.4" cy="369.4" r="2.25"/><circle cx="202.7" cy="377.5" r="2.25"/><circle cx="236.5" cy="367.7" r="2.25"/><circle cx="240.6" cy="339.6" r="2.25"/><circle cx="211" cy="372.1" r="2.25"/><circle cx="201.3" cy="344.3" r="2.25"/><circle cx="222.7" cy="355.4" r="2.25"/><circle cx="207.6" cy="369.1" r="2.25"/><circle cx="209.9" cy="363.3" r="2.25"/><circle cx="238.6" cy="361.8" r="2.25"/><circle cx="230.9" cy="320.9" r="2.25"/><circle cx="183.8" cy="333.1" r="2.25"/><circle cx="224.9" cy="380.8" r="2.25"/><circle cx="185.9" cy="353.9" r="2.25"/><circle cx="194.5" cy="350.8" r="2.25"/><circle cx="214.8" cy="362.9" r="2.25"/><circle cx="191.5" cy="345.3" r="2.25"/><circle cx="210.9" cy="345.2" r="2.25"/><circle cx="186.5" cy="382.8" r="2.25"/><circle cx="188.9" cy="337.9" r="2.25"/><circle cx="202.8" cy="384.1" r="2.25"/><circle cx="235.1" cy="355.5" r="2.25"/><circle cx="179.1" cy="360.5" r="2.25"/><circle cx="225.8" cy="363.8" r="2.25"/><circle cx="211.3" cy="310" r="2.25"/><circle cx="215.6" cy="321.5" r="2.25"/><circle cx="221.9" cy="312.5" r="2.25"/><circle cx="224.3" cy="341" r="2.25"/><circle cx="215.5" cy="345.5" r="2.25"/><circle cx="217" cy="317.3" r="2.25"/><circle cx="155" cy="347.8" r="2.25"/><circle cx="196.4" cy="333.3" r="2.25"/><circle cx="189.7" cy="354.4" r="2.25"/><circle cx="210.8" cy="328.5" r="2.25"/><circle cx="191.4" cy="365.2" r="2.25"/><circle cx="189.1" cy="347.1" r="2.25"/><circle cx="221.9" cy="364.5" r="2.25"/><circle cx="232.5" cy="370.3" r="2.25"/><circle cx="205.4" cy="342.3" r="2.25"/><circle cx="231.8" cy="337.4" r="2.25"/><circle cx="220.9" cy="369.8" r="2.25"/><circle cx="216.9" cy="345.2" r="2.25"/><circle cx="242.4" cy="355.5" r="2.25"/><circle cx="162.3" cy="347.8" r="2.25"/><circle cx="186.4" cy="344" r="2.25"/><circle cx="205" cy="326.5" r="2.25"/><circle cx="194.6" cy="370.6" r="2.25"/><circle cx="180.8" cy="391" r="2.25"/><circle cx="203.6" cy="345.4" r="2.25"/><circle cx="197.6" cy="363.2" r="2.25"/><circle cx="186.2" cy="335.9" r="2.25"/><circle cx="198.4" cy="370" r="2.25"/><circle cx="219.7" cy="334.4" r="2.25"/><circle cx="226.7" cy="323" r="2.25"/><circle cx="232.3" cy="331.8" r="2.25"/><circle cx="224.6" cy="362.5" r="2.25"/><circle cx="186.8" cy="345.1" r="2.25"/><circle cx="219.5" cy="360.2" r="2.25"/><circle cx="192.6" cy="324.7" r="2.25"/><circle cx="209.6" cy="342" r="2.25"/><circle cx="179.6" cy="367.9" r="2.25"/><circle cx="213.3" cy="345.1" r="2.25"/><circle cx="206.5" cy="334" r="2.25"/><circle cx="184.8" cy="347.4" r="2.25"/><circle cx="210.7" cy="379.3" r="2.25"/><circle cx="192.9" cy="336.6" r="2.25"/><circle cx="223.7" cy="356.1" r="2.25"/><circle cx="214.7" cy="336.3" r="2.25"/><circle cx="225.4" cy="355.1" r="2.25"/><circle cx="171.6" cy="341.1" r="2.25"/><circle cx="216.9" cy="339.4" r="2.25"/><circle cx="209.4" cy="326.5" r="2.25"/><circle cx="222.8" cy="362.5" r="2.25"/><circle cx="199.4" cy="367" r="2.25"/><circle cx="208.2" cy="352" r="2.25"/><circle cx="237.5" cy="328.1" r="2.25"/><circle cx="238" cy="340.9" r="2.25"/><circle cx="201.3" cy="335.3" r="2.25"/><circle cx="203.7" cy="375.8" r="2.25"/><circle cx="240.1" cy="340.5" r="2.25"/><circle cx="230.3" cy="341.8" r="2.25"/><circle cx="185.8" cy="369.9" r="2.25"/><circle cx="218.6" cy="330.8" r="2.25"/><circle cx="224" cy="365.8" r="2.25"/><circle cx="206.5" cy="375" r="2.25"/><circle cx="235.3" cy="365.4" r="2.25"/><circle cx="196.4" cy="362.1" r="2.25"/><circle cx="224.8" cy="351.6" r="2.25"/><circle cx="223.8" cy="328.4" r="2.25"/><circle cx="214.5" cy="361.7" r="2.25"/><circle cx="210.5" cy="363.2" r="2.25"/><circle cx="247.2" cy="354.2" r="2.25"/><circle cx="206.7" cy="358" r="2.25"/><circle cx="211.2" cy="337.5" r="2.25"/><circle cx="208.6" cy="389.4" r="2.25"/><circle cx="173" cy="361.9" r="2.25"/><circle cx="225.6" cy="364.7" r="2.25"/><circle cx="210.1" cy="325.4" r="2.25"/><circle cx="229.2" cy="343" r="2.25"/><circle cx="240" cy="338.9" r="2.25"/><circle cx="217.6" cy="371.5" r="2.25"/><circle cx="238.5" cy="372.8" r="2.25"/><circle cx="202.3" cy="359.5" r="2.25"/><circle cx="201.6" cy="337.2" r="2.25"/><circle cx="222.2" cy="338.7" r="2.25"/><circle cx="185.3" cy="344.7" r="2.25"/><circle cx="208.9" cy="385.4" r="2.25"/><circle cx="197.6" cy="322.6" r="2.25"/><circle cx="205.5" cy="367.8" r="2.25"/><circle cx="226.3" cy="354.2" r="2.25"/><circle cx="226" cy="331.1" r="2.25"/><circle cx="208.2" cy="337.8" r="2.25"/><circle cx="193.8" cy="338.9" r="2.25"/><circle cx="194.7" cy="347" r="2.25"/><circle cx="232.2" cy="354.8" r="2.25"/><circle cx="215.8" cy="358.6" r="2.25"/><circle cx="210.1" cy="329.1" r="2.25"/><circle cx="172.6" cy="375.1" r="2.25"/><circle cx="247.9" cy="317" r="2.25"/><circle cx="213.1" cy="352.4" r="2.25"/><circle cx="199.5" cy="317" r="2.25"/><circle cx="199.9" cy="365.7" r="2.25"/><circle cx="194.7" cy="317.7" r="2.25"/><circle cx="214.4" cy="390.6" r="2.25"/><circle cx="194.6" cy="372.4" r="2.25"/><circle cx="218.7" cy="357.1" r="2.25"/><circle cx="245.9" cy="327.9" r="2.25"/><circle cx="212.5" cy="340.7" r="2.25"/><circle cx="227.2" cy="350.3" r="2.25"/><circle cx="220.3" cy="365.1" r="2.25"/><circle cx="209.2" cy="351.3" r="2.25"/><circle cx="201.7" cy="376.8" r="2.25"/><circle cx="210.3" cy="330.1" r="2.25"/><circle cx="182" cy="360.6" r="2.25"/><circle cx="212.5" cy="353.5" r="2.25"/><circle cx="233.1" cy="322.6" r="2.25"/><circle cx="230.5" cy="351.9" r="2.25"/><circle cx="245.2" cy="372.6" r="2.25"/><circle cx="246.9" cy="327.8" r="2.25"/><circle cx="244.4" cy="364.9" r="2.25"/><circle cx="184" cy="370.1" r="2.25"/><circle cx="212.1" cy="356.6" r="2.25"/><circle cx="236.8" cy="339.2" r="2.25"/><circle cx="245.9" cy="332.3" r="2.25"/><circle cx="210.9" cy="304.8" r="2.25"/><circle cx="196.5" cy="329.2" r="2.25"/><circle cx="247.6" cy="358.7" r="2.25"/><circle cx="241.1" cy="374.4" r="2.25"/><circle cx="201.8" cy="308.1" r="2.25"/><circle cx="212" cy="375.2" r="2.25"/><circle cx="246.2" cy="340.9" r="2.25"/><circle cx="197.2" cy="342.4" r="2.25"/><circle cx="234.2" cy="354.7" r="2.25"/><circle cx="200.9" cy="355" r="2.25"/><circle cx="209.4" cy="358.3" r="2.25"/><circle cx="204.8" cy="314.7" r="2.25"/><circle cx="215.3" cy="363.7" r="2.25"/><circle cx="189.2" cy="344.6" r="2.25"/><circle cx="233.7" cy="338.8" r="2.25"/><circle cx="199.4" cy="391.5" r="2.25"/><circle cx="194.9" cy="339.2" r="2.25"/><circle cx="225.6" cy="321" r="2.25"/><circle cx="214.9" cy="333.3" r="2.25"/><circle cx="198.4" cy="320.7" r="2.25"/><circle cx="176" cy="356.3" r="2.25"/><circle cx="228.3" cy="359.3" r="2.25"/><circle cx="204" cy="358.8" r="2.25"/><circle cx="231.4" cy="353.8" r="2.25"/><circle cx="225.7" cy="380.1" r="2.25"/><circle cx="203.3" cy="350.5" r="2.25"/><circle cx="202.3" cy="369.6" r="2.25"/><circle cx="204.9" cy="357.4" r="2.25"/><circle cx="217.1" cy="348.4" r="2.25"/><circle cx="252.3" cy="345.1" r="2.25"/><circle cx="203.8" cy="342.8" r="2.25"/><circle cx="189.5" cy="348.7" r="2.25"/><circle cx="224.6" cy="373.2" r="2.25"/><circle cx="213.8" cy="363.9" r="2.25"/><circle cx="217.5" cy="351.1" r="2.25"/><circle cx="226.9" cy="376.5" r="2.25"/><circle cx="243.8" cy="304.6" r="2.25"/><circle cx="207.2" cy="359.7" r="2.25"/><circle cx="223.2" cy="329.4" r="2.25"/><circle cx="194.3" cy="367.9" r="2.25"/><circle cx="184.4" cy="378.1" r="2.25"/><circle cx="242.8" cy="354.5" r="2.25"/><circle cx="200.5" cy="347" r="2.25"/><circle cx="204.7" cy="375.3" r="2.25"/><circle cx="244.7" cy="363.6" r="2.25"/><circle cx="226.9" cy="367.9" r="2.25"/><circle cx="223.8" cy="345.2" r="2.25"/><circle cx="238" cy="353" r="2.25"/><circle cx="227.4" cy="380.6" r="2.25"/><circle cx="219.6" cy="323.9" r="2.25"/><circle cx="207" cy="379.4" r="2.25"/><circle cx="190" cy="344.8" r="2.25"/><circle cx="200.9" cy="367.5" r="2.25"/><circle cx="192.4" cy="310.6" r="2.25"/><circle cx="225.4" cy="339.3" r="2.25"/><circle cx="206.9" cy="370.3" r="2.25"/><circle cx="194.4" cy="338.9" r="2.25"/><circle cx="217.3" cy="355.9" r="2.25"/><circle cx="202.6" cy="369.4" r="2.25"/><circle cx="217" cy="339.7" r="2.25"/><circle cx="199.9" cy="319.4" r="2.25"/><circle cx="205.3" cy="375" r="2.25"/><circle cx="239.2" cy="339.5" r="2.25"/><circle cx="202.3" cy="331.8" r="2.25"/><circle cx="187.5" cy="386" r="2.25"/><circle cx="227" cy="378.4" r="2.25"/><circle cx="204.8" cy="350.1" r="2.25"/><circle cx="202.2" cy="328.6" r="2.25"/><circle cx="193.1" cy="335.7" r="2.25"/><circle cx="184.9" cy="341.6" r="2.25"/><circle cx="205" cy="353.7" r="2.25"/><circle cx="248.9" cy="376" r="2.25"/><circle cx="237.4" cy="362.6" r="2.25"/><circle cx="213.7" cy="373.1" r="2.25"/><circle cx="198.5" cy="341.6" r="2.25"/><circle cx="203.9" cy="342.1" r="2.25"/><circle cx="183.5" cy="344.5" r="2.25"/><circle cx="234.6" cy="358.1" r="2.25"/><circle cx="236.2" cy="357.8" r="2.25"/><circle cx="233" cy="325.5" r="2.25"/><circle cx="205.5" cy="310.1" r="2.25"/><circle cx="212.1" cy="336.7" r="2.25"/><circle cx="225.1" cy="327.3" r="2.25"/><circle cx="216" cy="334.9" r="2.25"/><circle cx="215.3" cy="339.4" r="2.25"/><circle cx="215.8" cy="368.6" r="2.25"/><circle cx="244.8" cy="349.9" r="2.25"/><circle cx="218.5" cy="365.5" r="2.25"/><circle cx="207.6" cy="324.1" r="2.25"/><circle cx="238.5" cy="326.8" r="2.25"/><circle cx="234.5" cy="326.2" r="2.25"/><circle cx="254.4" cy="324.4" r="2.25"/><circle cx="213.4" cy="326.4" r="2.25"/><circle cx="217" cy="313.1" r="2.25"/><circle cx="219.4" cy="336.8" r="2.25"/><circle cx="212.8" cy="340.4" r="2.25"/><circle cx="205.6" cy="340.7" r="2.25"/><circle cx="174.5" cy="334.8" r="2.25"/><circle cx="244.8" cy="331.7" r="2.25"/><circle cx="213.6" cy="361.7" r="2.25"/><circle cx="172.5" cy="361.1" r="2.25"/><circle cx="217.6" cy="350" r="2.25"/><circle cx="245.8" cy="372.8" r="2.25"/><circle cx="196.1" cy="340.8" r="2.25"/><circle cx="205.3" cy="326.7" r="2.25"/><circle cx="198.5" cy="309" r="2.25"/><circle cx="217.6" cy="345.8" r="2.25"/><circle cx="206.8" cy="357.8" r="2.25"/><circle cx="167.3" cy="346.5" r="2.25"/><circle cx="228.2" cy="350.2" r="2.25"/><circle cx="228.4" cy="316.1" r="2.25"/><circle cx="193.6" cy="363" r="2.25"/><circle cx="238.2" cy="383.4" r="2.25"/><circle cx="236.1" cy="324.9" r="2.25"/><circle cx="232.3" cy="356.2" r="2.25"/><circle cx="227.5" cy="350.7" r="2.25"/><circle cx="197.4" cy="366.4" r="2.25"/><circle cx="193.8" cy="336.6" r="2.25"/><circle cx="212.5" cy="349" r="2.25"/><circle cx="195.8" cy="337.3" r="2.25"/><circle cx="239.3" cy="350.2" r="2.25"/><circle cx="221" cy="346.4" r="2.25"/><circle cx="234.9" cy="373.6" r="2.25"/><circle cx="211.4" cy="364.8" r="2.25"/><circle cx="196.1" cy="347" r="2.25"/><circle cx="188.4" cy="335.4" r="2.25"/><circle cx="242.8" cy="353.1" r="2.25"/><circle cx="192.1" cy="323.3" r="2.25"/><circle cx="201.8" cy="360.9" r="2.25"/><circle cx="205.8" cy="329.6" r="2.25"/><circle cx="217.2" cy="310.2" r="2.25"/><circle cx="181.4" cy="345.2" r="2.25"/><circle cx="191.7" cy="339.8" r="2.25"/><circle cx="233.4" cy="354.6" r="2.25"/><circle cx="192.1" cy="349.5" r="2.25"/><circle cx="214.7" cy="363.4" r="2.25"/><circle cx="206.7" cy="356.9" r="2.25"/><circle cx="185.9" cy="356.8" r="2.25"/><circle cx="218.2" cy="354.3" r="2.25"/><circle cx="207.7" cy="365.3" r="2.25"/><circle cx="209.7" cy="318.8" r="2.25"/><circle cx="233.4" cy="339.1" r="2.25"/><circle cx="240.8" cy="332.9" r="2.25"/><circle cx="226.6" cy="353.8" r="2.25"/><circle cx="189.3" cy="377.4" r="2.25"/><circle cx="219.8" cy="340.8" r="2.25"/><circle cx="165" cy="351.7" r="2.25"/><circle cx="213.8" cy="351.9" r="2.25"/><circle cx="223.3" cy="362.3" r="2.25"/><circle cx="209.4" cy="331.9" r="2.25"/><circle cx="201.6" cy="355.9" r="2.25"/><circle cx="226.3" cy="381.6" r="2.25"/><circle cx="244.3" cy="340" r="2.25"/><circle cx="207.2" cy="357.3" r="2.25"/><circle cx="224.8" cy="372.8" r="2.25"/><circle cx="237.3" cy="324.3" r="2.25"/><circle cx="228.1" cy="339.8" r="2.25"/><circle cx="185.3" cy="366" r="2.25"/><circle cx="236.3" cy="355.2" r="2.25"/><circle cx="245" cy="355.9" r="2.25"/><circle cx="200.4" cy="369.7" r="2.25"/><circle cx="199.5" cy="337" r="2.25"/><circle cx="210.3" cy="347.8" r="2.25"/><circle cx="240.4" cy="333.9" r="2.25"/><circle cx="221.8" cy="346.4" r="2.25"/><circle cx="186.2" cy="323.3" r="2.25"/><circle cx="209.1" cy="355.8" r="2.25"/><circle cx="221.1" cy="357.4" r="2.25"/><circle cx="215.1" cy="337.3" r="2.25"/><circle cx="223.4" cy="325.3" r="2.25"/><circle cx="184.2" cy="339.8" r="2.25"/><circle cx="182.3" cy="335.8" r="2.25"/><circle cx="197.4" cy="335" r="2.25"/><circle cx="213" cy="329.7" r="2.25"/><circle cx="204.6" cy="309.9" r="2.25"/><circle cx="217.2" cy="327.9" r="2.25"/><circle cx="196.2" cy="352.3" r="2.25"/><circle cx="159.9" cy="339.2" r="2.25"/><circle cx="240.1" cy="348.5" r="2.25"/><circle cx="191.8" cy="314.8" r="2.25"/><circle cx="219.3" cy="384.5" r="2.25"/><circle cx="218.6" cy="349.9" r="2.25"/><circle cx="219.4" cy="352.9" r="2.25"/><circle cx="184.7" cy="346.7" r="2.25"/><circle cx="236.6" cy="395.5" r="2.25"/><circle cx="222.5" cy="358.3" r="2.25"/><circle cx="210" cy="296.4" r="2.25"/><circle cx="240.9" cy="344.1" r="2.25"/><circle cx="200.1" cy="331.4" r="2.25"/><circle cx="222" cy="323.3" r="2.25"/><circle cx="191.7" cy="390.5" r="2.25"/><circle cx="213.1" cy="338.8" r="2.25"/><circle cx="199.8" cy="328.9" r="2.25"/><circle cx="219.3" cy="341" r="2.25"/><circle cx="192.3" cy="337.9" r="2.25"/><circle cx="216.8" cy="363.9" r="2.25"/><circle cx="212.1" cy="370.9" r="2.25"/><circle cx="215.8" cy="362.1" r="2.25"/><circle cx="215.9" cy="314.8" r="2.25"/><circle cx="220.2" cy="375.6" r="2.25"/><circle cx="209.8" cy="384.3" r="2.25"/><circle cx="222.3" cy="330.6" r="2.25"/><circle cx="201" cy="369.6" r="2.25"/><circle cx="224.6" cy="338.5" r="2.25"/><circle cx="201.3" cy="319.3" r="2.25"/><circle cx="225.9" cy="392.2" r="2.25"/><circle cx="212.5" cy="351.8" r="2.25"/><circle cx="264.6" cy="349.9" r="2.25"/><circle cx="213.1" cy="336.8" r="2.25"/><circle cx="231" cy="376.7" r="2.25"/><circle cx="231.7" cy="358" r="2.25"/><circle cx="245.8" cy="329.5" r="2.25"/><circle cx="230.5" cy="350.4" r="2.25"/><circle cx="223.2" cy="313.8" r="2.25"/><circle cx="240.5" cy="353.3" r="2.25"/><circle cx="216.8" cy="370.7" r="2.25"/><circle cx="217.6" cy="349.8" r="2.25"/><circle cx="234" cy="345.9" r="2.25"/><circle cx="222.4" cy="339.1" r="2.25"/><circle cx="201.6" cy="348" r="2.25"/><circle cx="201" cy="353.1" r="2.25"/><circle cx="208.9" cy="335.3" r="2.25"/><circle cx="212" cy="320.6" r="2.25"/><circle cx="230.3" cy="360.6" r="2.25"/><circle cx="162.5" cy="348.2" r="2.25"/><circle cx="241.7" cy="322.6" r="2.25"/><circle cx="211.9" cy="360.9" r="2.25"/><circle cx="213.2" cy="355.5" r="2.25"/><circle cx="240.4" cy="354.2" r="2.25"/><circle cx="189.4" cy="362.7" r="2.25"/><circle cx="249" cy="349.3" r="2.25"/><circle cx="197.5" cy="323.9" r="2.25"/><circle cx="180.4" cy="336.6" r="2.25"/><circle cx="197.8" cy="358.6" r="2.25"/><circle cx="196.8" cy="361.5" r="2.25"/><circle cx="203.2" cy="353.7" r="2.25"/><circle cx="216.4" cy="347" r="2.25"/><circle cx="173.1" cy="314.8" r="2.25"/><circle cx="196.8" cy="333" r="2.25"/><circle cx="214.9" cy="361.9" r="2.25"/><circle cx="220.2" cy="343.1" r="2.25"/><circle cx="207" cy="328.3" r="2.25"/><circle cx="196.4" cy="324.4" r="2.25"/><circle cx="183.3" cy="345.1" r="2.25"/><circle cx="230.8" cy="346.5" r="2.25"/><circle cx="188" cy="320" r="2.25"/><circle cx="187.7" cy="371.5" r="2.25"/><circle cx="182.7" cy="341.9" r="2.25"/><circle cx="205" cy="329.2" r="2.25"/><circle cx="194.1" cy="326.6" r="2.25"/><circle cx="219.3" cy="377.5" r="2.25"/><circle cx="209" cy="320.1" r="2.25"/><circle cx="197.9" cy="349.3" r="2.25"/><circle cx="186.2" cy="342.9" r="2.25"/><circle cx="220.6" cy="331.7" r="2.25"/><circle cx="218.6" cy="342.1" r="2.25"/><circle cx="182.1" cy="375.9" r="2.25"/><circle cx="223.5" cy="356.1" r="2.25"/><circle cx="213.9" cy="357.5" r="2.25"/><circle cx="188.2" cy="378.8" r="2.25"/><circle cx="204.6" cy="349.8" r="2.25"/><circle cx="205.5" cy="323.9" r="2.25"/><circle cx="173.2" cy="352.5" r="2.25"/><circle cx="234.4" cy="374.5" r="2.25"/><circle cx="195.3" cy="367.2" r="2.25"/><circle cx="215.7" cy="368.6" r="2.25"/><circle cx="201.9" cy="365.6" r="2.25"/><circle cx="229.3" cy="348.7" r="2.25"/><circle cx="206.8" cy="343.7" r="2.25"/><circle cx="229.9" cy="379.2" r="2.25"/><circle cx="210.9" cy="366.7" r="2.25"/><circle cx="216.2" cy="389.6" r="2.25"/><circle cx="241.5" cy="364.4" r="2.25"/><circle cx="223.8" cy="335.3" r="2.25"/><circle cx="177.9" cy="365.5" r="2.25"/><circle cx="209.2" cy="351.9" r="2.25"/><circle cx="193.4" cy="354.6" r="2.25"/><circle cx="209.5" cy="328.7" r="2.25"/><circle cx="186.2" cy="364.8" r="2.25"/><circle cx="200.4" cy="364.8" r="2.25"/><circle cx="167.9" cy="322.7" r="2.25"/><circle cx="249.7" cy="340.7" r="2.25"/><circle cx="190.3" cy="370.9" r="2.25"/><circle cx="248.9" cy="363.3" r="2.25"/><circle cx="193.6" cy="365.9" r="2.25"/><circle cx="164.5" cy="348" r="2.25"/><circle cx="244.4" cy="351.8" r="2.25"/><circle cx="189.1" cy="352.8" r="2.25"/><circle cx="226.7" cy="327.3" r="2.25"/><circle cx="166.3" cy="354.8" r="2.25"/><circle cx="186.5" cy="348.5" r="2.25"/><circle cx="229.5" cy="317.1" r="2.25"/><circle cx="212.6" cy="324.2" r="2.25"/><circle cx="247.6" cy="355.6" r="2.25"/><circle cx="176.8" cy="334.2" r="2.25"/><circle cx="226" cy="357.7" r="2.25"/><circle cx="251.5" cy="366.3" r="2.25"/><circle cx="246.7" cy="366.8" r="2.25"/><circle cx="206.9" cy="344" r="2.25"/><circle cx="198.8" cy="314.8" r="2.25"/><circle cx="206.3" cy="347.8" r="2.25"/><circle cx="205.3" cy="325.2" r="2.25"/><circle cx="233" cy="305.3" r="2.25"/><circle cx="200" cy="370.5" r="2.25"/><circle cx="211.2" cy="364.3" r="2.25"/><circle cx="207.2" cy="362.9" r="2.25"/><circle cx="232.5" cy="324.8" r="2.25"/><circle cx="190" cy="345.4" r="2.25"/><circle cx="232.6" cy="353.1" r="2.25"/><circle cx="213.3" cy="362.1" r="2.25"/><circle cx="241" cy="356" r="2.25"/><circle cx="196" cy="364.9" r="2.25"/><circle cx="183.6" cy="349.1" r="2.25"/><circle cx="218.9" cy="332.7" r="2.25"/><circle cx="239.6" cy="333.1" r="2.25"/><circle cx="233" cy="353.2" r="2.25"/><circle cx="190.9" cy="342.2" r="2.25"/><circle cx="195.3" cy="339.1" r="2.25"/><circle cx="208" cy="386.7" r="2.25"/><circle cx="203.8" cy="307.7" r="2.25"/><circle cx="192.8" cy="333.5" r="2.25"/><circle cx="236.9" cy="337.3" r="2.25"/><circle cx="219.7" cy="341.6" r="2.25"/><circle cx="184" cy="360" r="2.25"/><circle cx="219.8" cy="340.4" r="2.25"/><circle cx="202.1" cy="338.9" r="2.25"/><circle cx="240.1" cy="333.5" r="2.25"/><circle cx="222.5" cy="321.9" r="2.25"/><circle cx="198.1" cy="317.1" r="2.25"/><circle cx="209.6" cy="361.9" r="2.25"/><circle cx="220.8" cy="336.3" r="2.25"/><circle cx="227.6" cy="339.4" r="2.25"/><circle cx="222.3" cy="353" r="2.25"/><circle cx="204.4" cy="332.4" r="2.25"/><circle cx="243.1" cy="327.9" r="2.25"/><circle cx="218.4" cy="353.4" r="2.25"/><circle cx="211.8" cy="340.8" r="2.25"/><circle cx="223.9" cy="330.9" r="2.25"/><circle cx="217.3" cy="376.5" r="2.25"/><circle cx="201.7" cy="373.2" r="2.25"/><circle cx="242.8" cy="387.8" r="2.25"/><circle cx="221.2" cy="336.2" r="2.25"/><circle cx="209.4" cy="350.7" r="2.25"/><circle cx="190" cy="369" r="2.25"/><circle cx="204.2" cy="344.2" r="2.25"/><circle cx="177.8" cy="355" r="2.25"/><circle cx="209.1" cy="337" r="2.25"/><circle cx="219.6" cy="336.9" r="2.25"/><circle cx="240.1" cy="336.8" r="2.25"/><circle cx="208.6" cy="367.1" r="2.25"/><circle cx="214.1" cy="320.6" r="2.25"/><circle cx="223.2" cy="342.8" r="2.25"/><circle cx="168.3" cy="351.3" r="2.25"/><circle cx="204.4" cy="344.5" r="2.25"/><circle cx="225.7" cy="360.8" r="2.25"/><circle cx="248.8" cy="319.9" r="2.25"/><circle cx="219.3" cy="344.4" r="2.25"/><circle cx="183.1" cy="391.9" r="2.25"/><circle cx="233.7" cy="353.3" r="2.25"/><circle cx="197.5" cy="352.3" r="2.25"/><circle cx="213.3" cy="332.9" r="2.25"/><circle cx="218.5" cy="328.6" r="2.25"/><circle cx="240.7" cy="359.2" r="2.25"/><circle cx="238" cy="363.1" r="2.25"/><circle cx="221.3" cy="317.6" r="2.25"/><circle cx="208.2" cy="348.4" r="2.25"/><circle cx="203.6" cy="346.1" r="2.25"/><circle cx="206.6" cy="337.5" r="2.25"/><circle cx="195.1" cy="337.1" r="2.25"/><circle cx="190.1" cy="370.5" r="2.25"/><circle cx="240.5" cy="393.9" r="2.25"/><circle cx="220.1" cy="355.1" r="2.25"/><circle cx="222.3" cy="339.3" r="2.25"/><circle cx="185.5" cy="347.7" r="2.25"/><circle cx="233.1" cy="364" r="2.25"/><circle cx="228.6" cy="370.9" r="2.25"/><circle cx="192" cy="346.1" r="2.25"/><circle cx="221.5" cy="368.7" r="2.25"/><circle cx="217.5" cy="358.2" r="2.25"/><circle cx="217.1" cy="344.5" r="2.25"/><circle cx="239" cy="337.9" r="2.25"/><circle cx="221.6" cy="318.7" r="2.25"/><circle cx="207.8" cy="331.9" r="2.25"/><circle cx="214" cy="334" r="2.25"/><circle cx="213.5" cy="352.6" r="2.25"/><circle cx="192.2" cy="363.9" r="2.25"/><circle cx="221.5" cy="341" r="2.25"/><circle cx="199.2" cy="339.2" r="2.25"/><circle cx="230" cy="353.4" r="2.25"/><circle cx="244.9" cy="355" r="2.25"/><circle cx="198.9" cy="308.4" r="2.25"/><circle cx="191.1" cy="381.4" r="2.25"/><circle cx="217" cy="345.4" r="2.25"/><circle cx="236.1" cy="338.5" r="2.25"/><circle cx="205.8" cy="352.3" r="2.25"/><circle cx="215.2" cy="383.6" r="2.25"/><circle cx="208.3" cy="335.4" r="2.25"/><circle cx="206.9" cy="357.3" r="2.25"/><circle cx="219.2" cy="362" r="2.25"/><circle cx="214.3" cy="315" r="2.25"/><circle cx="224.1" cy="376.9" r="2.25"/><circle cx="236.9" cy="314.4" r="2.25"/><circle cx="209.7" cy="326.6" r="2.25"/><circle cx="213.7" cy="334.9" r="2.25"/><circle cx="212.6" cy="304.5" r="2.25"/><circle cx="223.9" cy="318.5" r="2.25"/><circle cx="174.5" cy="363.6" r="2.25"/><circle cx="227.3" cy="333.2" r="2.25"/><circle cx="241.5" cy="340.3" r="2.25"/><circle cx="224.8" cy="343.3" r="2.25"/><circle cx="222.8" cy="333.1" r="2.25"/><circle cx="222.2" cy="370.6" r="2.25"/><circle cx="216.2" cy="373.1" r="2.25"/><circle cx="243.3" cy="328.3" r="2.25"/><circle cx="208.3" cy="325.2" r="2.25"/><circle cx="242.6" cy="364" r="2.25"/><circle cx="224.8" cy="329.4" r="2.25"/><circle cx="240.6" cy="347.7" r="2.25"/><circle cx="225.1" cy="348.1" r="2.25"/><circle cx="223.2" cy="325.3" r="2.25"/><circle cx="193.9" cy="331.8" r="2.25"/><circle cx="205.8" cy="360.4" r="2.25"/><circle cx="187.1" cy="381.5" r="2.25"/><circle cx="211.4" cy="356.3" r="2.25"/><circle cx="209.3" cy="381.7" r="2.25"/><circle cx="182.4" cy="358.8" r="2.25"/><circle cx="239.3" cy="370.5" r="2.25"/><circle cx="206.2" cy="403.1" r="2.25"/><circle cx="232.1" cy="333.1" r="2.25"/><circle cx="156.6" cy="347.1" r="2.25"/><circle cx="228.9" cy="346" r="2.25"/><circle cx="220.6" cy="335.3" r="2.25"/><circle cx="213.4" cy="346.9" r="2.25"/><circle cx="220.4" cy="331.1" r="2.25"/><circle cx="207.6" cy="355.3" r="2.25"/><circle cx="170.7" cy="332.4" r="2.25"/><circle cx="209.4" cy="339.3" r="2.25"/><circle cx="196.3" cy="329.9" r="2.25"/><circle cx="235" cy="341.4" r="2.25"/><circle cx="196.8" cy="320" r="2.25"/><circle cx="194.1" cy="366.2" r="2.25"/><circle cx="190.6" cy="338.3" r="2.25"/><circle cx="214" cy="341" r="2.25"/><circle cx="208.3" cy="357.9" r="2.25"/><circle cx="260.4" cy="333.2" r="2.25"/><circle cx="188.3" cy="331.6" r="2.25"/><circle cx="236" cy="353.5" r="2.25"/><circle cx="213.5" cy="314.8" r="2.25"/><circle cx="206.5" cy="384.4" r="2.25"/><circle cx="190.9" cy="340.5" r="2.25"/><circle cx="247" cy="342.5" r="2.25"/><circle cx="225.7" cy="315.2" r="2.25"/><circle cx="170.8" cy="386.4" r="2.25"/><circle cx="207.3" cy="330.1" r="2.25"/><circle cx="229.8" cy="372" r="2.25"/><circle cx="232.8" cy="311.5" r="2.25"/><circle cx="231.7" cy="367.9" r="2.25"/><circle cx="223.8" cy="337.7" r="2.25"/><circle cx="213" cy="333.3" r="2.25"/><circle cx="211.1" cy="353.9" r="2.25"/><circle cx="207.3" cy="368.1" r="2.25"/><circle cx="193.9" cy="397.3" r="2.25"/><circle cx="203.4" cy="368.8" r="2.25"/><circle cx="227.9" cy="358" r="2.25"/><circle cx="196.2" cy="360.7" r="2.25"/><circle cx="231.7" cy="343" r="2.25"/><circle cx="231" cy="319.6" r="2.25"/><circle cx="217.6" cy="327.8" r="2.25"/><circle cx="182" cy="334.9" r="2.25"/><circle cx="214.3" cy="328.9" r="2.25"/><circle cx="180.6" cy="385.2" r="2.25"/><circle cx="206.3" cy="377.8" r="2.25"/><circle cx="211.6" cy="385.6" r="2.25"/><circle cx="180.9" cy="389.4" r="2.25"/><circle cx="214.4" cy="355.6" r="2.25"/><circle cx="177.3" cy="335.7" r="2.25"/><circle cx="178.4" cy="368.3" r="2.25"/><circle cx="202.4" cy="377.3" r="2.25"/><circle cx="245.9" cy="340.5" r="2.25"/><circle cx="199.9" cy="310.7" r="2.25"/><circle cx="171" cy="379.9" r="2.25"/><circle cx="201.5" cy="365.8" r="2.25"/><circle cx="221.3" cy="327.4" r="2.25"/><circle cx="228" cy="362.2" r="2.25"/><circle cx="235.7" cy="356.4" r="2.25"/><circle cx="169" cy="346.4" r="2.25"/><circle cx="193.4" cy="336.3" r="2.25"/><circle cx="197.5" cy="339" r="2.25"/><circle cx="234" cy="374.3" r="2.25"/><circle cx="214.7" cy="320.5" r="2.25"/><circle cx="228.4" cy="317.6" r="2.25"/><circle cx="222.8" cy="338.8" r="2.25"/><circle cx="203.8" cy="313.4" r="2.25"/><circle cx="200" cy="335.3" r="2.25"/><circle cx="242.5" cy="359.6" r="2.25"/><circle cx="222.3" cy="331" r="2.25"/><circle cx="217.8" cy="362.6" r="2.25"/><circle cx="242.7" cy="365.8" r="2.25"/><circle cx="211.2" cy="338.7" r="2.25"/><circle cx="224.8" cy="330.1" r="2.25"/><circle cx="246.4" cy="347.7" r="2.25"/><circle cx="225.9" cy="360.8" r="2.25"/><circle cx="237.3" cy="355.9" r="2.25"/><circle cx="174.7" cy="333.2" r="2.25"/><circle cx="219.2" cy="337.4" r="2.25"/><circle cx="219.2" cy="378.3" r="2.25"/><circle cx="202.9" cy="364" r="2.25"/><circle cx="199.3" cy="340.4" r="2.25"/><circle cx="218.2" cy="332.2" r="2.25"/><circle cx="253.2" cy="354.4" r="2.25"/><circle cx="189.9" cy="346.3" r="2.25"/><circle cx="243.9" cy="359.2" r="2.25"/><circle cx="209.1" cy="317.5" r="2.25"/><circle cx="191.7" cy="362.8" r="2.25"/><circle cx="222.8" cy="346.3" r="2.25"/><circle cx="201.8" cy="348.7" r="2.25"/><circle cx="180.6" cy="356.7" r="2.25"/><circle cx="193.8" cy="352.8" r="2.25"/><circle cx="222.6" cy="368.2" r="2.25"/><circle cx="210.9" cy="361.5" r="2.25"/><circle cx="211.6" cy="320" r="2.25"/><circle cx="199.9" cy="352.6" r="2.25"/><circle cx="209.6" cy="332.7" r="2.25"/><circle cx="211.1" cy="375.7" r="2.25"/><circle cx="207.7" cy="311.7" r="2.25"/><circle cx="228.4" cy="352.9" r="2.25"/><circle cx="201.7" cy="334.1" r="2.25"/><circle cx="205.5" cy="357.6" r="2.25"/><circle cx="211.6" cy="353.4" r="2.25"/><circle cx="223.8" cy="365.8" r="2.25"/><circle cx="247.5" cy="322.9" r="2.25"/><circle cx="203.7" cy="349.9" r="2.25"/><circle cx="224.4" cy="355.1" r="2.25"/><circle cx="218.5" cy="322" r="2.25"/><circle cx="171.7" cy="353.2" r="2.25"/><circle cx="237" cy="365.3" r="2.25"/><circle cx="198.3" cy="346.2" r="2.25"/><circle cx="213.9" cy="351.7" r="2.25"/><circle cx="244.4" cy="327.8" r="2.25"/><circle cx="179.6" cy="361.1" r="2.25"/><circle cx="230.7" cy="307" r="2.25"/><circle cx="193.6" cy="277.5" r="2.25"/><circle cx="191.7" cy="283.8" r="2.25"/><circle cx="198.7" cy="282.5" r="2.25"/><circle cx="139" cy="385.6" r="2.25"/><circle cx="144.6" cy="383.4" r="2.25"/><circle cx="145.4" cy="383.5" r="2.25"/><circle cx="164.2" cy="390.1" r="2.25"/><circle cx="170.1" cy="390.7" r="2.25"/><circle cx="173.9" cy="386.1" r="2.25"/><circle cx="171.7" cy="405.4" r="2.25"/><circle cx="179.5" cy="396.6" r="2.25"/><circle cx="179.5" cy="380.9" r="2.25"/><circle cx="221.9" cy="285.3" r="2.25"/><circle cx="219" cy="287.5" r="2.25"/><circle cx="214.6" cy="289.7" r="2.25"/><circle cx="213.1" cy="292.6" r="2.25"/><circle cx="226.3" cy="291.9" r="2.25"/><circle cx="229.2" cy="294.8" r="2.25"/><circle cx="202.9" cy="289.7" r="2.25"/><circle cx="201.5" cy="293.4" r="2.25"/><circle cx="244.2" cy="292.6" r="2.25"/><circle cx="239.1" cy="298" r="2.25"/><circle cx="244.1" cy="301.4" r="2.25"/><circle cx="237.2" cy="304.7" r="2.25"/><circle cx="244.1" cy="306.8" r="2.25"/><circle cx="236.5" cy="309.1" r="2.25"/><circle cx="252.6" cy="311.9" r="2.25"/><circle cx="268.9" cy="301.8" r="2.25"/><circle cx="271.1" cy="317.9" r="2.25"/><circle cx="287.6" cy="327.7" r="2.25"/><circle cx="264.2" cy="326.2" r="2.25"/><circle cx="259.6" cy="325.2" r="2.25"/><circle cx="258.4" cy="332" r="2.25"/><circle cx="254.7" cy="335.7" r="2.25"/><circle cx="262" cy="337.9" r="2.25"/><circle cx="267.2" cy="343.7" r="2.25"/><circle cx="262" cy="342.3" r="2.25"/><circle cx="243.8" cy="314.5" r="2.25"/><circle cx="246.7" cy="316.7" r="2.25"/><circle cx="227.7" cy="301.4" r="2.25"/><circle cx="220.4" cy="299.9" r="2.25"/><circle cx="214.6" cy="300.7" r="2.25"/><circle cx="254" cy="338.9" r="2.25"/><circle cx="268.8" cy="347.1" r="2.25"/><circle cx="272.9" cy="349.1" r="2.25"/><circle cx="277" cy="356.6" r="2.25"/><circle cx="255.5" cy="347.8" r="2.25"/><circle cx="257.6" cy="351.7" r="2.25"/><circle cx="258.1" cy="353.7" r="2.25"/><circle cx="261.7" cy="358.3" r="2.25"/><circle cx="261.2" cy="359.8" r="2.25"/><circle cx="253" cy="355.8" r="2.25"/><circle cx="257.1" cy="365.8" r="2.25"/><circle cx="263.2" cy="366" r="2.25"/><circle cx="269.8" cy="363.9" r="2.25"/><circle cx="269.8" cy="366.5" r="2.25"/><circle cx="272.9" cy="366" r="2.25"/><circle cx="258.1" cy="369.5" r="2.25"/><circle cx="264.3" cy="374.5" r="2.25"/><circle cx="256" cy="377.4" r="2.25"/><circle cx="247.3" cy="378.9" r="2.25"/><circle cx="241.4" cy="383.2" r="2.25"/><circle cx="233.4" cy="394.2" r="2.25"/><circle cx="234.9" cy="394.2" r="2.25"/><circle cx="224.6" cy="395.7" r="2.25"/><circle cx="221" cy="395.7" r="2.25"/><circle cx="215.9" cy="394.2" r="2.25"/><circle cx="217.3" cy="391.3" r="2.25"/><circle cx="210" cy="392.7" r="2.25"/><circle cx="207.8" cy="395.7" r="2.25"/><circle cx="210" cy="400.8" r="2.25"/><circle cx="205.7" cy="400" r="2.25"/><circle cx="202.7" cy="399.3" r="2.25"/><circle cx="199.1" cy="399.3" r="2.25"/><circle cx="199.1" cy="402.2" r="2.25"/><circle cx="201" cy="390.5" r="2.25"/><circle cx="190.3" cy="398.3" r="2.25"/><circle cx="180.1" cy="396.4" r="2.25"/><circle cx="211.5" cy="407" r="2.25"/><circle cx="226.1" cy="408.5" r="2.25"/><circle cx="203.5" cy="411.4" r="2.25"/><circle cx="193.7" cy="408.1" r="2.25"/><circle cx="189.3" cy="409.5" r="2.25"/><circle cx="187.4" cy="415.8" r="2.25"/><circle cx="183" cy="387.6" r="2.25"/><circle cx="182.3" cy="383.2" r="2.25"/><circle cx="170" cy="297.2" r="2.25"/><circle cx="171" cy="308" r="2.25"/><circle cx="170.5" cy="314.4" r="2.25"/><circle cx="173.1" cy="318.2" r="2.25"/><circle cx="170" cy="321.8" r="2.25"/><circle cx="169" cy="324.4" r="2.25"/><circle cx="167.5" cy="328" r="2.25"/><circle cx="165.4" cy="332.1" r="2.25"/><circle cx="162.3" cy="337.2" r="2.25"/><circle cx="162.8" cy="340.3" r="2.25"/><circle cx="156.7" cy="319.3" r="2.25"/><circle cx="156.2" cy="337.2" r="2.25"/><circle cx="175.7" cy="310.5" r="2.25"/><circle cx="180.8" cy="300.3" r="2.25"/><circle cx="182.9" cy="303.3" r="2.25"/><circle cx="185.9" cy="297.7" r="2.25"/><circle cx="188" cy="301.3" r="2.25"/><circle cx="187" cy="291" r="2.25"/><circle cx="190" cy="290.5" r="2.25"/><circle cx="173.1" cy="333.1" r="2.25"/><circle cx="175.2" cy="331.1" r="2.25"/><circle cx="193.9" cy="277.2" r="2.25"/><circle cx="198.6" cy="282.3" r="2.25"/><circle cx="201" cy="284" r="2.25"/><circle cx="191.6" cy="284" r="2.25"/><circle cx="190.4" cy="287" r="2.25"/><circle cx="186.4" cy="291" r="2.25"/><circle cx="189.9" cy="290.4" r="2.25"/><circle cx="203.3" cy="289.9" r="2.25"/><circle cx="201" cy="293.4" r="2.25"/><circle cx="199.2" cy="296.3" r="2.25"/><circle cx="196.3" cy="299.2" r="2.25"/><circle cx="195.7" cy="302.1" r="2.25"/><circle cx="185.2" cy="296.9" r="2.25"/><circle cx="181.7" cy="300.4" r="2.25"/><circle cx="182.3" cy="303.9" r="2.25"/><circle cx="187.5" cy="301" r="2.25"/><circle cx="171.2" cy="297.5" r="2.25"/><circle cx="214.4" cy="289.3" r="2.25"/><circle cx="213.2" cy="292.2" r="2.25"/><circle cx="219.1" cy="286.9" r="2.25"/><circle cx="222.3" cy="285.8" r="2.25"/><circle cx="222.6" cy="290.4" r="2.25"/><circle cx="227.2" cy="292.2" r="2.25"/><circle cx="229.6" cy="294.5" r="2.25"/><circle cx="244.2" cy="292.4" r="2.25"/><circle cx="238.9" cy="298" r="2.25"/><circle cx="244.2" cy="301.5" r="2.25"/><circle cx="237.2" cy="304.5" r="2.25"/><circle cx="236.6" cy="309.1" r="2.25"/><circle cx="243.8" cy="307.1" r="2.25"/><circle cx="214.4" cy="300.4" r="2.25"/><circle cx="220.2" cy="299.2" r="2.25"/><circle cx="227.8" cy="301" r="2.25"/><circle cx="230.7" cy="301" r="2.25"/><circle cx="171.2" cy="308" r="2.25"/><circle cx="175.8" cy="310.3" r="2.25"/><circle cx="153.6" cy="346.6" r="2.25"/><circle cx="154.4" cy="349.2" r="2.25"/><circle cx="154" cy="354" r="2.25"/><circle cx="158.8" cy="356.6" r="2.25"/><circle cx="155.3" cy="361" r="2.25"/><circle cx="161.9" cy="365.8" r="2.25"/><circle cx="165.4" cy="357.5" r="2.25"/><circle cx="167.1" cy="345.3" r="2.25"/><circle cx="162.3" cy="341.3" r="2.25"/><circle cx="164.1" cy="371.5" r="2.25"/><circle cx="167.1" cy="372.4" r="2.25"/><circle cx="172" cy="375.5" r="2.25"/><circle cx="175" cy="375.5" r="2.25"/><circle cx="177.7" cy="377.7" r="2.25"/><circle cx="181.2" cy="381.2" r="2.25"/><circle cx="170.1" cy="297.6" r="2.25"/><circle cx="170.9" cy="307.9" r="2.25"/><circle cx="156.9" cy="319.4" r="2.25"/><circle cx="156.3" cy="337.3" r="2.25"/><circle cx="287.5" cy="327.7" r="2.25"/><circle cx="271.5" cy="317.7" r="2.25"/><circle cx="270" cy="301.7" r="2.25"/><circle cx="272.6" cy="349.1" r="2.25"/></g>
</g>
<path d="M50.5,20H684.5V487.5H50.5" fill="none" stroke="#000" stroke-width="1"/><path d="M50.4,19.5V487.5" stroke="#333" stroke-width="1.1"/>
<path d="M128.35,487.5V492 M243.60,487.5V492 M358.85,487.5V492 M474.10,487.5V492 M589.35,487.5V492 M45.5,83.30H50.5 M45.5,152.30H50.5 M45.5,221.30H50.5 M45.5,290.30H50.5 M45.5,359.30H50.5 M45.5,428.30H50.5" stroke="#000" stroke-width="1" fill="none"/>
<g font-family="Liberation Sans, Arial, sans-serif" font-weight="bold" font-size="12.9" fill="#000">
<text x="128.35" y="510.3" text-anchor="middle" font-size="13.3">−0.01</text><text x="243.60" y="510.3" text-anchor="middle" font-size="13.3">0.00</text><text x="358.85" y="510.3" text-anchor="middle" font-size="13.3">0.01</text><text x="474.10" y="510.3" text-anchor="middle" font-size="13.3">0.02</text><text x="589.35" y="510.3" text-anchor="middle" font-size="13.3">0.03</text><text transform="translate(35.6,83.30) rotate(-90)" text-anchor="middle" font-size="13.3">0.03</text><text transform="translate(35.6,152.30) rotate(-90)" text-anchor="middle" font-size="13.3">0.02</text><text transform="translate(35.6,221.30) rotate(-90)" text-anchor="middle" font-size="13.3">0.01</text><text transform="translate(35.6,290.30) rotate(-90)" text-anchor="middle" font-size="13.3">0.00</text><text transform="translate(35.6,360.20) rotate(-90)" text-anchor="middle" font-size="13.3">−0.01</text><text transform="translate(35.6,429.20) rotate(-90)" text-anchor="middle" font-size="13.3">−0.02</text>
<text x="367" y="531" text-anchor="middle">PC1</text>
<text transform="translate(11.6,253.3) rotate(-90)" text-anchor="middle">PC2</text>
<text x="369.5" y="11.4" text-anchor="middle" font-size="13.5">1KG and Turkish PCA</text>
</g>
<g font-family="Liberation Sans, Arial, sans-serif" font-size="15.4" fill="#000"><rect x="534.5" y="52.50" width="11" height="8.8" fill="#FFFF00" stroke="#222" stroke-width="1"/><text x="559.3" y="62.40">African</text><rect x="534.5" y="70.85" width="11" height="8.8" fill="#228B22" stroke="#222" stroke-width="1"/><text x="559.3" y="80.75">Mixed</text><rect x="534.5" y="89.20" width="11" height="8.8" fill="#BEBEBE" stroke="#222" stroke-width="1"/><text x="559.3" y="99.10">East Asian</text><rect x="534.5" y="107.55" width="11" height="8.8" fill="#4169E1" stroke="#222" stroke-width="1"/><text x="559.3" y="117.45">CEU</text><rect x="534.5" y="125.90" width="11" height="8.8" fill="#4682B4" stroke="#222" stroke-width="1"/><text x="559.3" y="135.80">FIN</text><rect x="534.5" y="144.25" width="11" height="8.8" fill="#1E90FF" stroke="#222" stroke-width="1"/><text x="559.3" y="154.15">GBR</text><rect x="534.5" y="162.60" width="11" height="8.8" fill="#00BFFF" stroke="#222" stroke-width="1"/><text x="559.3" y="172.50">IBS</text><rect x="534.5" y="180.95" width="11" height="8.8" fill="#483D8B" stroke="#222" stroke-width="1"/><text x="559.3" y="190.85">TSI</text><rect x="534.5" y="199.30" width="11" height="8.8" fill="#FFA500" stroke="#222" stroke-width="1"/><text x="559.3" y="209.20">South East Asian</text><rect x="534.5" y="217.65" width="11" height="8.8" fill="#000000" stroke="#222" stroke-width="1"/><text x="559.3" y="227.55">Turkish</text></g>
</svg>
</body></html>
